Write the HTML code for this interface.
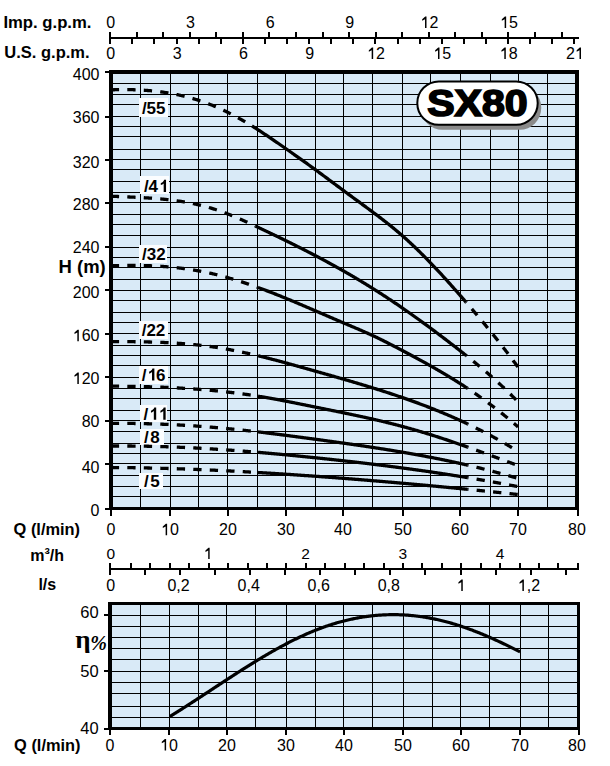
<!DOCTYPE html>
<html><head><meta charset="utf-8"><style>
html,body{margin:0;padding:0;background:#fff;width:610px;height:766px;overflow:hidden}
svg{display:block}
</style></head><body>
<svg width="610" height="766" viewBox="0 0 610 766">
<g shape-rendering="crispEdges">
<text x="3.40" y="28" font-family="Liberation Sans" font-size="16.7" font-weight="bold" text-anchor="start" >Imp. g.p.m.</text>
<text x="4.30" y="57.5" font-family="Liberation Sans" font-size="16.5" font-weight="bold" text-anchor="start" >U.S. g.p.m.</text>
<rect x="109" y="37" width="470" height="2" fill="#000"/>
<rect x="109" y="32" width="2" height="5" fill="#000"/>
<rect x="136" y="32" width="2" height="5" fill="#000"/>
<rect x="162" y="32" width="2" height="5" fill="#000"/>
<rect x="189" y="32" width="2" height="5" fill="#000"/>
<rect x="215" y="32" width="2" height="5" fill="#000"/>
<rect x="242" y="32" width="2" height="5" fill="#000"/>
<rect x="268" y="32" width="2" height="5" fill="#000"/>
<rect x="295" y="32" width="2" height="5" fill="#000"/>
<rect x="322" y="32" width="2" height="5" fill="#000"/>
<rect x="348" y="32" width="2" height="5" fill="#000"/>
<rect x="375" y="32" width="2" height="5" fill="#000"/>
<rect x="401" y="32" width="2" height="5" fill="#000"/>
<rect x="428" y="32" width="2" height="5" fill="#000"/>
<rect x="454" y="32" width="2" height="5" fill="#000"/>
<rect x="481" y="32" width="2" height="5" fill="#000"/>
<rect x="507" y="32" width="2" height="5" fill="#000"/>
<rect x="534" y="32" width="2" height="5" fill="#000"/>
<rect x="561" y="32" width="2" height="5" fill="#000"/>
<rect x="109" y="39" width="2" height="5" fill="#000"/>
<rect x="131" y="39" width="2" height="5" fill="#000"/>
<rect x="153" y="39" width="2" height="5" fill="#000"/>
<rect x="176" y="39" width="2" height="5" fill="#000"/>
<rect x="198" y="39" width="2" height="5" fill="#000"/>
<rect x="220" y="39" width="2" height="5" fill="#000"/>
<rect x="242" y="39" width="2" height="5" fill="#000"/>
<rect x="264" y="39" width="2" height="5" fill="#000"/>
<rect x="286" y="39" width="2" height="5" fill="#000"/>
<rect x="308" y="39" width="2" height="5" fill="#000"/>
<rect x="330" y="39" width="2" height="5" fill="#000"/>
<rect x="352" y="39" width="2" height="5" fill="#000"/>
<rect x="374" y="39" width="2" height="5" fill="#000"/>
<rect x="397" y="39" width="2" height="5" fill="#000"/>
<rect x="419" y="39" width="2" height="5" fill="#000"/>
<rect x="441" y="39" width="2" height="5" fill="#000"/>
<rect x="463" y="39" width="2" height="5" fill="#000"/>
<rect x="485" y="39" width="2" height="5" fill="#000"/>
<rect x="507" y="39" width="2" height="5" fill="#000"/>
<rect x="529" y="39" width="2" height="5" fill="#000"/>
<rect x="551" y="39" width="2" height="5" fill="#000"/>
<rect x="573" y="39" width="2" height="5" fill="#000"/>
<text x="110.80" y="28" font-family="Liberation Sans" font-size="16" font-weight="normal" text-anchor="middle" >0</text>
<text x="190.45" y="28" font-family="Liberation Sans" font-size="16" font-weight="normal" text-anchor="middle" >3</text>
<text x="270.09" y="28" font-family="Liberation Sans" font-size="16" font-weight="normal" text-anchor="middle" >6</text>
<text x="349.74" y="28" font-family="Liberation Sans" font-size="16" font-weight="normal" text-anchor="middle" >9</text>
<path d="M770 0H580V1120L215 925V1120L610 1472H770Z" transform="translate(420.49,28) scale(0.00781,-0.00781)" fill="#000" shape-rendering="geometricPrecision"/>
<text x="429.38" y="28" font-family="Liberation Sans" font-size="16" font-weight="normal" text-anchor="start" >2</text>
<path d="M770 0H580V1120L215 925V1120L610 1472H770Z" transform="translate(500.13,28) scale(0.00781,-0.00781)" fill="#000" shape-rendering="geometricPrecision"/>
<text x="509.03" y="28" font-family="Liberation Sans" font-size="16" font-weight="normal" text-anchor="start" >5</text>
<text x="110.80" y="59" font-family="Liberation Sans" font-size="16" font-weight="normal" text-anchor="middle" >0</text>
<text x="177.11" y="59" font-family="Liberation Sans" font-size="16" font-weight="normal" text-anchor="middle" >3</text>
<text x="243.43" y="59" font-family="Liberation Sans" font-size="16" font-weight="normal" text-anchor="middle" >6</text>
<text x="309.74" y="59" font-family="Liberation Sans" font-size="16" font-weight="normal" text-anchor="middle" >9</text>
<path d="M770 0H580V1120L215 925V1120L610 1472H770Z" transform="translate(367.15,59) scale(0.00781,-0.00781)" fill="#000" shape-rendering="geometricPrecision"/>
<text x="376.05" y="59" font-family="Liberation Sans" font-size="16" font-weight="normal" text-anchor="start" >2</text>
<path d="M770 0H580V1120L215 925V1120L610 1472H770Z" transform="translate(433.47,59) scale(0.00781,-0.00781)" fill="#000" shape-rendering="geometricPrecision"/>
<text x="442.37" y="59" font-family="Liberation Sans" font-size="16" font-weight="normal" text-anchor="start" >5</text>
<path d="M770 0H580V1120L215 925V1120L610 1472H770Z" transform="translate(499.78,59) scale(0.00781,-0.00781)" fill="#000" shape-rendering="geometricPrecision"/>
<text x="508.68" y="59" font-family="Liberation Sans" font-size="16" font-weight="normal" text-anchor="start" >8</text>
<text x="566.09" y="59" font-family="Liberation Sans" font-size="16" font-weight="normal" text-anchor="start" >2</text>
<path d="M770 0H580V1120L215 925V1120L610 1472H770Z" transform="translate(574.99,59) scale(0.00781,-0.00781)" fill="#000" shape-rendering="geometricPrecision"/>
<rect x="109" y="70" width="470" height="439.5" fill="#d9eaf7"/>
<rect x="140" y="74" width="1" height="432.5" fill="#000"/>
<rect x="170" y="74" width="1" height="432.5" fill="#000"/>
<rect x="198" y="74" width="1" height="432.5" fill="#000"/>
<rect x="227" y="74" width="1" height="432.5" fill="#000"/>
<rect x="257" y="74" width="1" height="432.5" fill="#000"/>
<rect x="285" y="74" width="1" height="432.5" fill="#000"/>
<rect x="315" y="74" width="1" height="432.5" fill="#000"/>
<rect x="343" y="74" width="1" height="432.5" fill="#000"/>
<rect x="372" y="74" width="1" height="432.5" fill="#000"/>
<rect x="402" y="74" width="1" height="432.5" fill="#000"/>
<rect x="430" y="74" width="1" height="432.5" fill="#000"/>
<rect x="460" y="74" width="1" height="432.5" fill="#000"/>
<rect x="490" y="74" width="1" height="432.5" fill="#000"/>
<rect x="518" y="74" width="1" height="432.5" fill="#000"/>
<rect x="547" y="74" width="1" height="432.5" fill="#000"/>
<rect x="112.5" y="83" width="462.5" height="1" fill="#000"/>
<rect x="112.5" y="94" width="462.5" height="1" fill="#000"/>
<rect x="112.5" y="104" width="462.5" height="1" fill="#000"/>
<rect x="112.5" y="116" width="462.5" height="1" fill="#000"/>
<rect x="112.5" y="126" width="462.5" height="1" fill="#000"/>
<rect x="112.5" y="136" width="462.5" height="1" fill="#000"/>
<rect x="112.5" y="149" width="462.5" height="1" fill="#000"/>
<rect x="112.5" y="159" width="462.5" height="1" fill="#000"/>
<rect x="112.5" y="169" width="462.5" height="1" fill="#000"/>
<rect x="112.5" y="181" width="462.5" height="1" fill="#000"/>
<rect x="112.5" y="192" width="462.5" height="1" fill="#000"/>
<rect x="112.5" y="202" width="462.5" height="1" fill="#000"/>
<rect x="112.5" y="214" width="462.5" height="1" fill="#000"/>
<rect x="112.5" y="224" width="462.5" height="1" fill="#000"/>
<rect x="112.5" y="235" width="462.5" height="1" fill="#000"/>
<rect x="112.5" y="247" width="462.5" height="1" fill="#000"/>
<rect x="112.5" y="257" width="462.5" height="1" fill="#000"/>
<rect x="112.5" y="267" width="462.5" height="1" fill="#000"/>
<rect x="112.5" y="279" width="462.5" height="1" fill="#000"/>
<rect x="112.5" y="290" width="462.5" height="1" fill="#000"/>
<rect x="112.5" y="300" width="462.5" height="1" fill="#000"/>
<rect x="112.5" y="312" width="462.5" height="1" fill="#000"/>
<rect x="112.5" y="322" width="462.5" height="1" fill="#000"/>
<rect x="112.5" y="333" width="462.5" height="1" fill="#000"/>
<rect x="112.5" y="345" width="462.5" height="1" fill="#000"/>
<rect x="112.5" y="355" width="462.5" height="1" fill="#000"/>
<rect x="112.5" y="365" width="462.5" height="1" fill="#000"/>
<rect x="112.5" y="377" width="462.5" height="1" fill="#000"/>
<rect x="112.5" y="388" width="462.5" height="1" fill="#000"/>
<rect x="112.5" y="398" width="462.5" height="1" fill="#000"/>
<rect x="112.5" y="410" width="462.5" height="1" fill="#000"/>
<rect x="112.5" y="420" width="462.5" height="1" fill="#000"/>
<rect x="112.5" y="431" width="462.5" height="1" fill="#000"/>
<rect x="112.5" y="443" width="462.5" height="1" fill="#000"/>
<rect x="112.5" y="453" width="462.5" height="1" fill="#000"/>
<rect x="112.5" y="463" width="462.5" height="1" fill="#000"/>
<rect x="112.5" y="475" width="462.5" height="1" fill="#000"/>
<rect x="112.5" y="486" width="462.5" height="1" fill="#000"/>
<rect x="112.5" y="496" width="462.5" height="1" fill="#000"/>
<rect x="139.2" y="97.8" width="28.9" height="19.2" fill="#fbfdff"/>
<rect x="139.8" y="176.1" width="29.1" height="17.7" fill="#fbfdff"/>
<rect x="139.4" y="245" width="27.9" height="18.0" fill="#fbfdff"/>
<rect x="139.3" y="321.4" width="28.9" height="17.6" fill="#fbfdff"/>
<rect x="139.3" y="366.4" width="28.9" height="17.1" fill="#fbfdff"/>
<rect x="139.8" y="404.9" width="27.5" height="16.8" fill="#fbfdff"/>
<rect x="139.8" y="429.1" width="24.2" height="15.6" fill="#fbfdff"/>
<rect x="139.4" y="472.6" width="23.4" height="16.0" fill="#fbfdff"/>
</g><g shape-rendering="geometricPrecision">
<path d="M110.80,89.84 L111.51,89.82 L112.22,89.80 L112.93,89.78 L113.64,89.75 L114.35,89.74 L115.06,89.72 L115.77,89.70 L116.48,89.68 L117.19,89.67 L117.90,89.66 L118.61,89.65 L119.31,89.64 L120.02,89.63 L120.73,89.62 L121.44,89.61 L122.15,89.61 L122.86,89.61 L123.57,89.60 L124.28,89.60 L124.99,89.60 L125.70,89.61 L126.41,89.61 L127.12,89.62 L127.83,89.62 L128.54,89.63 L129.25,89.64 L129.96,89.65 L130.67,89.67 L131.38,89.68 L132.09,89.70 L132.80,89.72 L133.51,89.74 L134.22,89.76 L134.92,89.78 L135.63,89.80 L136.34,89.83 L137.05,89.86 L137.76,89.89 L138.47,89.92 L139.18,89.95 L139.89,89.99 L140.60,90.02 L141.31,90.06 L142.02,90.10 L142.73,90.14 L143.44,90.19 L144.15,90.23 L144.86,90.28 L145.57,90.33 L146.28,90.38 L146.99,90.44 L147.70,90.49 L148.41,90.55 L149.12,90.61 L149.83,90.67 L150.53,90.73 L151.24,90.79 L151.95,90.86 L152.66,90.93 L153.37,91.00 L154.08,91.07 L154.79,91.15 L155.50,91.23 L156.21,91.30 L156.92,91.39 L157.63,91.47 L158.34,91.55 L159.05,91.64 L159.76,91.73 L160.47,91.82 L161.18,91.92 L161.89,92.01 L162.60,92.11 L163.31,92.21 L164.02,92.31 L164.73,92.42 L165.44,92.53 L166.14,92.64 L166.85,92.75 L167.56,92.86 L168.27,92.98 L168.98,93.10 L169.69,93.22 L170.40,93.34 L171.11,93.47 L171.82,93.60 L172.53,93.73 L173.24,93.86 L173.95,94.00 L174.66,94.13 L175.37,94.27 L176.08,94.42 L176.79,94.56 L177.50,94.71 L178.21,94.86 L178.92,95.01 L179.63,95.17 L180.34,95.33 L181.05,95.49 L181.75,95.65 L182.46,95.82 L183.17,95.99 L183.88,96.16 L184.59,96.33 L185.30,96.51 L186.01,96.69 L186.72,96.87 L187.43,97.05 L188.14,97.24 L188.85,97.43 L189.56,97.62 L190.27,97.82 L190.98,98.01 L191.69,98.21 L192.40,98.42 L193.11,98.62 L193.82,98.83 L194.53,99.05 L195.24,99.26 L195.95,99.48 L196.66,99.70 L197.36,99.92 L198.07,100.15 L198.78,100.38 L199.49,100.61 L200.20,100.85 L200.91,101.08 L201.62,101.33 L202.33,101.57 L203.04,101.82 L203.75,102.07 L204.46,102.32 L205.17,102.58 L205.88,102.84 L206.59,103.10 L207.30,103.36 L208.01,103.63 L208.72,103.90 L209.43,104.18 L210.14,104.46 L210.85,104.74 L211.56,105.02 L212.27,105.31 L212.97,105.60 L213.68,105.90 L214.39,106.19 L215.10,106.49 L215.81,106.80 L216.52,107.10 L217.23,107.41 L217.94,107.73 L218.65,108.04 L219.36,108.36 L220.07,108.68 L220.78,109.01 L221.49,109.33 L222.20,109.67 L222.91,110.00 L223.62,110.34 L224.33,110.68 L225.04,111.02 L225.75,111.36 L226.46,111.71 L227.17,112.06 L227.88,112.42 L228.58,112.77 L229.29,113.13 L230.00,113.49 L230.71,113.86 L231.42,114.23 L232.13,114.60 L232.84,114.97 L233.55,115.34 L234.26,115.72 L234.97,116.10 L235.68,116.49 L236.39,116.87 L237.10,117.26 L237.81,117.65 L238.52,118.04 L239.23,118.44 L239.94,118.84 L240.65,119.24 L241.36,119.64 L242.07,120.05 L242.78,120.46 L243.49,120.87 L244.19,121.28 L244.90,121.70 L245.61,122.11 L246.32,122.53 L247.03,122.96 L247.74,123.38 L248.45,123.81 L249.16,124.24 L249.87,124.67 L250.58,125.10 L251.29,125.54 L252.00,125.97" fill="none" stroke="#000" stroke-width="3.3" stroke-dasharray="8.3 8.2"/>
<path d="M252.00,125.97 L252.72,126.42 L253.43,126.86 L254.15,127.31 L254.86,127.76 L255.58,128.21 L256.29,128.67 L257.01,129.12 L257.73,129.58 L258.44,130.04 L259.16,130.50 L259.87,130.97 L260.59,131.43 L261.30,131.90 L262.02,132.37 L262.74,132.84 L263.45,133.31 L264.17,133.78 L264.88,134.26 L265.60,134.73 L266.31,135.21 L267.03,135.69 L267.75,136.17 L268.46,136.65 L269.18,137.13 L269.89,137.62 L270.61,138.10 L271.32,138.59 L272.04,139.08 L272.76,139.57 L273.47,140.06 L274.19,140.55 L274.90,141.04 L275.62,141.53 L276.33,142.02 L277.05,142.52 L277.77,143.01 L278.48,143.51 L279.20,144.00 L279.91,144.50 L280.63,145.00 L281.34,145.50 L282.06,145.99 L282.78,146.49 L283.49,146.99 L284.21,147.49 L284.92,147.99 L285.64,148.50 L286.35,149.00 L287.07,149.50 L287.79,150.00 L288.50,150.50 L289.22,151.00 L289.93,151.51 L290.65,152.01 L291.36,152.51 L292.08,153.02 L292.80,153.52 L293.51,154.03 L294.23,154.53 L294.94,155.04 L295.66,155.54 L296.37,156.05 L297.09,156.56 L297.81,157.06 L298.52,157.57 L299.24,158.08 L299.95,158.59 L300.67,159.10 L301.38,159.61 L302.10,160.12 L302.82,160.63 L303.53,161.14 L304.25,161.66 L304.96,162.17 L305.68,162.68 L306.39,163.20 L307.11,163.71 L307.83,164.23 L308.54,164.74 L309.26,165.26 L309.97,165.78 L310.69,166.30 L311.40,166.82 L312.12,167.33 L312.84,167.86 L313.55,168.38 L314.27,168.90 L314.98,169.42 L315.70,169.94 L316.41,170.47 L317.13,170.99 L317.85,171.52 L318.56,172.04 L319.28,172.57 L319.99,173.10 L320.71,173.63 L321.42,174.15 L322.14,174.68 L322.86,175.21 L323.57,175.74 L324.29,176.27 L325.00,176.80 L325.72,177.34 L326.43,177.87 L327.15,178.40 L327.87,178.93 L328.58,179.46 L329.30,179.99 L330.01,180.53 L330.73,181.06 L331.44,181.59 L332.16,182.13 L332.88,182.66 L333.59,183.19 L334.31,183.72 L335.02,184.26 L335.74,184.79 L336.45,185.32 L337.17,185.86 L337.89,186.39 L338.60,186.92 L339.32,187.45 L340.03,187.98 L340.75,188.51 L341.46,189.05 L342.18,189.58 L342.90,190.11 L343.61,190.64 L344.33,191.17 L345.04,191.70 L345.76,192.22 L346.47,192.75 L347.19,193.28 L347.91,193.81 L348.62,194.33 L349.34,194.86 L350.05,195.39 L350.77,195.91 L351.48,196.44 L352.20,196.97 L352.92,197.49 L353.63,198.02 L354.35,198.54 L355.06,199.07 L355.78,199.59 L356.49,200.11 L357.21,200.64 L357.93,201.16 L358.64,201.69 L359.36,202.21 L360.07,202.74 L360.79,203.26 L361.51,203.78 L362.22,204.31 L362.94,204.83 L363.65,205.36 L364.37,205.88 L365.08,206.41 L365.80,206.93 L366.52,207.46 L367.23,207.99 L367.95,208.51 L368.66,209.04 L369.38,209.57 L370.09,210.10 L370.81,210.63 L371.53,211.16 L372.24,211.69 L372.96,212.23 L373.67,212.76 L374.39,213.30 L375.10,213.83 L375.82,214.37 L376.54,214.91 L377.25,215.45 L377.97,215.99 L378.68,216.53 L379.40,217.08 L380.11,217.62 L380.83,218.17 L381.55,218.72 L382.26,219.27 L382.98,219.83 L383.69,220.38 L384.41,220.94 L385.12,221.50 L385.84,222.06 L386.56,222.62 L387.27,223.19 L387.99,223.76 L388.70,224.33 L389.42,224.90 L390.13,225.47 L390.85,226.05 L391.57,226.63 L392.28,227.21 L393.00,227.80 L393.71,228.39 L394.43,228.98 L395.14,229.57 L395.86,230.17 L396.58,230.77 L397.29,231.37 L398.01,231.97 L398.72,232.58 L399.44,233.19 L400.15,233.81 L400.87,234.43 L401.59,235.05 L402.30,235.68 L403.02,236.30 L403.73,236.94 L404.45,237.57 L405.16,238.21 L405.88,238.85 L406.60,239.50 L407.31,240.15 L408.03,240.80 L408.74,241.46 L409.46,242.12 L410.17,242.78 L410.89,243.45 L411.61,244.11 L412.32,244.79 L413.04,245.46 L413.75,246.14 L414.47,246.82 L415.18,247.51 L415.90,248.19 L416.62,248.88 L417.33,249.58 L418.05,250.27 L418.76,250.97 L419.48,251.68 L420.19,252.38 L420.91,253.09 L421.63,253.80 L422.34,254.51 L423.06,255.23 L423.77,255.95 L424.49,256.67 L425.20,257.39 L425.92,258.12 L426.64,258.85 L427.35,259.58 L428.07,260.32 L428.78,261.05 L429.50,261.79 L430.21,262.54 L430.93,263.28 L431.65,264.03 L432.36,264.78 L433.08,265.53 L433.79,266.28 L434.51,267.04 L435.22,267.80 L435.94,268.56 L436.66,269.32 L437.37,270.09 L438.09,270.85 L438.80,271.62 L439.52,272.39 L440.23,273.17 L440.95,273.94 L441.67,274.72 L442.38,275.50 L443.10,276.28 L443.81,277.06 L444.53,277.85 L445.24,278.64 L445.96,279.43 L446.68,280.22 L447.39,281.01 L448.11,281.80 L448.82,282.60 L449.54,283.40 L450.25,284.20 L450.97,285.00 L451.69,285.80 L452.40,286.61 L453.12,287.41 L453.83,288.22 L454.55,289.03 L455.26,289.84 L455.98,290.65 L456.70,291.46 L457.41,292.28 L458.13,293.09 L458.84,293.91 L459.56,294.73 L460.27,295.55 L460.99,296.37 L461.71,297.19 L462.42,298.02 L463.14,298.84 L463.85,299.67 L464.57,300.49 L465.28,301.32 L466.00,302.15" fill="none" stroke="#000" stroke-width="3.3"/>
<path d="M466.00,302.15 L466.53,302.76 L467.05,303.37 L467.58,303.98 L468.10,304.59 L468.63,305.20 L469.15,305.81 L469.68,306.43 L470.20,307.04 L470.73,307.66 L471.25,308.27 L471.78,308.89 L472.30,309.50 L472.83,310.12 L473.35,310.74 L473.88,311.36 L474.40,311.97 L474.93,312.59 L475.45,313.22 L475.98,313.84 L476.51,314.46 L477.03,315.08 L477.56,315.71 L478.08,316.33 L478.61,316.96 L479.13,317.58 L479.66,318.21 L480.18,318.84 L480.71,319.47 L481.23,320.10 L481.76,320.73 L482.28,321.36 L482.81,322.00 L483.33,322.63 L483.86,323.26 L484.38,323.90 L484.91,324.54 L485.43,325.17 L485.96,325.81 L486.48,326.45 L487.01,327.09 L487.54,327.73 L488.06,328.38 L488.59,329.02 L489.11,329.67 L489.64,330.31 L490.16,330.96 L490.69,331.61 L491.21,332.26 L491.74,332.91 L492.26,333.56 L492.79,334.21 L493.31,334.87 L493.84,335.52 L494.36,336.18 L494.89,336.83 L495.41,337.49 L495.94,338.15 L496.46,338.81 L496.99,339.48 L497.52,340.14 L498.04,340.80 L498.57,341.47 L499.09,342.14 L499.62,342.81 L500.14,343.48 L500.67,344.15 L501.19,344.82 L501.72,345.49 L502.24,346.17 L502.77,346.85 L503.29,347.52 L503.82,348.20 L504.34,348.88 L504.87,349.57 L505.39,350.25 L505.92,350.93 L506.44,351.62 L506.97,352.31 L507.49,353.00 L508.02,353.69 L508.55,354.38 L509.07,355.07 L509.60,355.77 L510.12,356.47 L510.65,357.16 L511.17,357.86 L511.70,358.57 L512.22,359.27 L512.75,359.97 L513.27,360.68 L513.80,361.39 L514.32,362.10 L514.85,362.81 L515.37,363.52 L515.90,364.23 L516.42,364.95 L516.95,365.67 L517.47,366.39 L518.00,367.11" fill="none" stroke="#000" stroke-width="3.3" stroke-dasharray="8.3 8.2" stroke-dashoffset="7.6000000000000005"/>
<path d="M110.80,196.20 L111.53,196.24 L112.25,196.27 L112.98,196.30 L113.71,196.33 L114.44,196.36 L115.16,196.40 L115.89,196.43 L116.62,196.46 L117.34,196.49 L118.07,196.52 L118.80,196.55 L119.53,196.58 L120.25,196.61 L120.98,196.64 L121.71,196.67 L122.43,196.70 L123.16,196.73 L123.89,196.76 L124.62,196.79 L125.34,196.82 L126.07,196.85 L126.80,196.88 L127.52,196.92 L128.25,196.95 L128.98,196.98 L129.71,197.01 L130.43,197.04 L131.16,197.07 L131.89,197.11 L132.61,197.14 L133.34,197.17 L134.07,197.21 L134.80,197.24 L135.52,197.28 L136.25,197.31 L136.98,197.35 L137.70,197.38 L138.43,197.42 L139.16,197.46 L139.89,197.49 L140.61,197.53 L141.34,197.57 L142.07,197.61 L142.79,197.65 L143.52,197.69 L144.25,197.74 L144.98,197.78 L145.70,197.82 L146.43,197.87 L147.16,197.91 L147.88,197.96 L148.61,198.00 L149.34,198.05 L150.07,198.10 L150.79,198.15 L151.52,198.20 L152.25,198.25 L152.97,198.31 L153.70,198.36 L154.43,198.42 L155.16,198.47 L155.88,198.53 L156.61,198.59 L157.34,198.65 L158.06,198.71 L158.79,198.77 L159.52,198.84 L160.25,198.90 L160.97,198.97 L161.70,199.03 L162.43,199.10 L163.15,199.17 L163.88,199.25 L164.61,199.32 L165.34,199.39 L166.06,199.47 L166.79,199.55 L167.52,199.63 L168.24,199.71 L168.97,199.79 L169.70,199.87 L170.43,199.96 L171.15,200.05 L171.88,200.14 L172.61,200.23 L173.33,200.32 L174.06,200.41 L174.79,200.51 L175.52,200.61 L176.24,200.71 L176.97,200.81 L177.70,200.91 L178.42,201.02 L179.15,201.12 L179.88,201.23 L180.61,201.35 L181.33,201.46 L182.06,201.57 L182.79,201.69 L183.51,201.81 L184.24,201.93 L184.97,202.06 L185.69,202.18 L186.42,202.31 L187.15,202.44 L187.88,202.57 L188.60,202.71 L189.33,202.85 L190.06,202.99 L190.78,203.13 L191.51,203.27 L192.24,203.42 L192.97,203.57 L193.69,203.72 L194.42,203.87 L195.15,204.03 L195.87,204.19 L196.60,204.35 L197.33,204.52 L198.06,204.68 L198.78,204.85 L199.51,205.02 L200.24,205.20 L200.96,205.38 L201.69,205.56 L202.42,205.74 L203.15,205.93 L203.87,206.11 L204.60,206.31 L205.33,206.50 L206.05,206.70 L206.78,206.90 L207.51,207.10 L208.24,207.30 L208.96,207.51 L209.69,207.73 L210.42,207.94 L211.14,208.16 L211.87,208.38 L212.60,208.60 L213.33,208.83 L214.05,209.06 L214.78,209.29 L215.51,209.53 L216.23,209.77 L216.96,210.01 L217.69,210.26 L218.42,210.50 L219.14,210.75 L219.87,211.01 L220.60,211.26 L221.32,211.52 L222.05,211.78 L222.78,212.05 L223.51,212.32 L224.23,212.59 L224.96,212.86 L225.69,213.13 L226.41,213.41 L227.14,213.69 L227.87,213.97 L228.60,214.26 L229.32,214.54 L230.05,214.83 L230.78,215.13 L231.50,215.42 L232.23,215.72 L232.96,216.01 L233.69,216.31 L234.41,216.62 L235.14,216.92 L235.87,217.23 L236.59,217.54 L237.32,217.85 L238.05,218.16 L238.78,218.47 L239.50,218.79 L240.23,219.11 L240.96,219.43 L241.68,219.75 L242.41,220.07 L243.14,220.40 L243.87,220.73 L244.59,221.06 L245.32,221.39 L246.05,221.72 L246.77,222.05 L247.50,222.39 L248.23,222.72 L248.96,223.06 L249.68,223.40 L250.41,223.73 L251.14,224.07 L251.86,224.41 L252.59,224.75 L253.32,225.09 L254.05,225.44 L254.77,225.78 L255.50,226.12" fill="none" stroke="#000" stroke-width="3.3" stroke-dasharray="8.3 8.2"/>
<path d="M255.50,226.12 L256.21,226.45 L256.91,226.78 L257.62,227.12 L258.32,227.45 L259.03,227.78 L259.73,228.12 L260.44,228.45 L261.14,228.78 L261.85,229.12 L262.55,229.45 L263.26,229.79 L263.96,230.12 L264.67,230.45 L265.37,230.79 L266.08,231.13 L266.78,231.46 L267.49,231.80 L268.19,232.13 L268.90,232.47 L269.60,232.81 L270.31,233.14 L271.01,233.48 L271.72,233.82 L272.42,234.16 L273.13,234.50 L273.83,234.84 L274.54,235.17 L275.24,235.51 L275.95,235.85 L276.65,236.19 L277.36,236.54 L278.06,236.88 L278.77,237.22 L279.47,237.56 L280.18,237.90 L280.88,238.25 L281.59,238.59 L282.29,238.93 L283.00,239.28 L283.70,239.62 L284.41,239.97 L285.11,240.31 L285.82,240.66 L286.52,241.00 L287.23,241.35 L287.93,241.70 L288.64,242.04 L289.34,242.39 L290.05,242.74 L290.75,243.09 L291.46,243.44 L292.16,243.79 L292.87,244.14 L293.57,244.49 L294.28,244.84 L294.98,245.19 L295.69,245.55 L296.39,245.90 L297.10,246.25 L297.80,246.61 L298.51,246.96 L299.21,247.32 L299.92,247.67 L300.62,248.03 L301.33,248.39 L302.03,248.74 L302.74,249.10 L303.44,249.46 L304.15,249.82 L304.85,250.18 L305.56,250.54 L306.26,250.90 L306.97,251.26 L307.67,251.62 L308.38,251.99 L309.08,252.35 L309.79,252.72 L310.49,253.08 L311.20,253.45 L311.90,253.81 L312.61,254.18 L313.31,254.55 L314.02,254.91 L314.72,255.28 L315.43,255.65 L316.13,256.02 L316.84,256.39 L317.54,256.77 L318.25,257.14 L318.95,257.51 L319.66,257.88 L320.36,258.26 L321.07,258.63 L321.77,259.01 L322.48,259.39 L323.18,259.76 L323.89,260.14 L324.59,260.52 L325.30,260.90 L326.00,261.28 L326.71,261.66 L327.41,262.04 L328.12,262.43 L328.82,262.81 L329.53,263.19 L330.23,263.58 L330.94,263.97 L331.64,264.35 L332.35,264.74 L333.05,265.13 L333.76,265.52 L334.46,265.91 L335.17,266.30 L335.87,266.69 L336.58,267.08 L337.28,267.47 L337.99,267.87 L338.69,268.26 L339.40,268.66 L340.10,269.06 L340.81,269.45 L341.51,269.85 L342.22,270.25 L342.92,270.65 L343.63,271.05 L344.33,271.45 L345.04,271.86 L345.74,272.26 L346.45,272.67 L347.15,273.07 L347.86,273.48 L348.56,273.89 L349.27,274.29 L349.97,274.70 L350.68,275.11 L351.38,275.52 L352.09,275.94 L352.79,276.35 L353.50,276.76 L354.20,277.18 L354.91,277.59 L355.61,278.01 L356.32,278.43 L357.02,278.85 L357.73,279.27 L358.43,279.69 L359.14,280.11 L359.84,280.53 L360.55,280.96 L361.25,281.38 L361.96,281.81 L362.66,282.24 L363.37,282.66 L364.07,283.09 L364.78,283.52 L365.48,283.95 L366.19,284.39 L366.89,284.82 L367.60,285.25 L368.30,285.69 L369.01,286.12 L369.71,286.56 L370.42,287.00 L371.12,287.44 L371.83,287.88 L372.53,288.32 L373.24,288.77 L373.94,289.21 L374.65,289.65 L375.35,290.10 L376.06,290.55 L376.76,291.00 L377.47,291.45 L378.17,291.90 L378.88,292.35 L379.58,292.80 L380.29,293.25 L380.99,293.71 L381.70,294.17 L382.40,294.62 L383.11,295.08 L383.81,295.54 L384.52,296.00 L385.22,296.46 L385.93,296.92 L386.63,297.39 L387.34,297.85 L388.04,298.32 L388.75,298.78 L389.45,299.25 L390.16,299.72 L390.86,300.19 L391.57,300.66 L392.27,301.13 L392.98,301.60 L393.68,302.08 L394.39,302.55 L395.09,303.03 L395.80,303.50 L396.50,303.98 L397.21,304.46 L397.91,304.94 L398.62,305.42 L399.32,305.90 L400.03,306.38 L400.73,306.86 L401.44,307.35 L402.14,307.83 L402.85,308.32 L403.55,308.81 L404.26,309.30 L404.96,309.78 L405.67,310.27 L406.37,310.77 L407.08,311.26 L407.78,311.75 L408.49,312.24 L409.19,312.74 L409.90,313.24 L410.60,313.73 L411.31,314.23 L412.01,314.73 L412.72,315.23 L413.42,315.73 L414.13,316.23 L414.83,316.73 L415.54,317.23 L416.24,317.74 L416.95,318.24 L417.65,318.75 L418.36,319.26 L419.06,319.76 L419.77,320.27 L420.47,320.78 L421.18,321.29 L421.88,321.80 L422.59,322.31 L423.29,322.83 L424.00,323.34 L424.70,323.86 L425.41,324.37 L426.11,324.89 L426.82,325.40 L427.52,325.92 L428.23,326.44 L428.93,326.96 L429.64,327.48 L430.34,328.00 L431.05,328.52 L431.75,329.05 L432.46,329.57 L433.16,330.10 L433.87,330.62 L434.57,331.15 L435.28,331.68 L435.98,332.20 L436.69,332.73 L437.39,333.26 L438.10,333.79 L438.80,334.32 L439.51,334.85 L440.21,335.39 L440.92,335.92 L441.62,336.46 L442.33,336.99 L443.03,337.53 L443.74,338.06 L444.44,338.60 L445.15,339.14 L445.85,339.68 L446.56,340.22 L447.26,340.76 L447.97,341.30 L448.67,341.84 L449.38,342.38 L450.08,342.93 L450.79,343.47 L451.49,344.02 L452.20,344.56 L452.90,345.11 L453.61,345.66 L454.31,346.20 L455.02,346.75 L455.72,347.30 L456.43,347.85 L457.13,348.40 L457.84,348.95 L458.54,349.51 L459.25,350.06 L459.95,350.61 L460.66,351.17 L461.36,351.72 L462.07,352.28 L462.77,352.83 L463.48,353.39 L464.18,353.95 L464.89,354.51 L465.59,355.07 L466.30,355.63" fill="none" stroke="#000" stroke-width="3.3"/>
<path d="M466.30,355.63 L466.82,356.04 L467.33,356.45 L467.85,356.87 L468.37,357.28 L468.89,357.70 L469.40,358.11 L469.92,358.53 L470.44,358.94 L470.95,359.36 L471.47,359.78 L471.99,360.19 L472.51,360.61 L473.02,361.03 L473.54,361.45 L474.06,361.87 L474.57,362.30 L475.09,362.72 L475.61,363.14 L476.13,363.57 L476.64,363.99 L477.16,364.42 L477.68,364.84 L478.19,365.27 L478.71,365.70 L479.23,366.13 L479.75,366.56 L480.26,366.99 L480.78,367.42 L481.30,367.85 L481.82,368.29 L482.33,368.72 L482.85,369.16 L483.37,369.59 L483.88,370.03 L484.40,370.47 L484.92,370.91 L485.44,371.35 L485.95,371.79 L486.47,372.24 L486.99,372.68 L487.50,373.12 L488.02,373.57 L488.54,374.02 L489.06,374.47 L489.57,374.92 L490.09,375.37 L490.61,375.82 L491.12,376.27 L491.64,376.73 L492.16,377.18 L492.68,377.64 L493.19,378.10 L493.71,378.56 L494.23,379.02 L494.74,379.48 L495.26,379.94 L495.78,380.41 L496.30,380.87 L496.81,381.34 L497.33,381.81 L497.85,382.28 L498.36,382.75 L498.88,383.23 L499.40,383.70 L499.92,384.18 L500.43,384.65 L500.95,385.13 L501.47,385.61 L501.98,386.09 L502.50,386.58 L503.02,387.06 L503.54,387.55 L504.05,388.04 L504.57,388.53 L505.09,389.02 L505.61,389.51 L506.12,390.01 L506.64,390.50 L507.16,391.00 L507.67,391.50 L508.19,392.00 L508.71,392.50 L509.23,393.01 L509.74,393.51 L510.26,394.02 L510.78,394.53 L511.29,395.04 L511.81,395.56 L512.33,396.07 L512.85,396.59 L513.36,397.11 L513.88,397.63 L514.40,398.15 L514.91,398.67 L515.43,399.20 L515.95,399.73 L516.47,400.26 L516.98,400.79 L517.50,401.32" fill="none" stroke="#000" stroke-width="3.3" stroke-dasharray="8.3 8.2" stroke-dashoffset="7.6000000000000005"/>
<path d="M110.80,265.81 L111.54,265.78 L112.28,265.75 L113.02,265.72 L113.76,265.70 L114.50,265.67 L115.24,265.65 L115.98,265.63 L116.72,265.60 L117.46,265.58 L118.20,265.56 L118.94,265.54 L119.68,265.53 L120.42,265.51 L121.16,265.49 L121.90,265.48 L122.64,265.46 L123.37,265.45 L124.11,265.44 L124.85,265.43 L125.59,265.42 L126.33,265.41 L127.07,265.40 L127.81,265.39 L128.55,265.39 L129.29,265.38 L130.03,265.38 L130.77,265.38 L131.51,265.38 L132.25,265.37 L132.99,265.38 L133.73,265.38 L134.47,265.38 L135.21,265.39 L135.95,265.39 L136.69,265.40 L137.43,265.41 L138.17,265.41 L138.91,265.42 L139.65,265.44 L140.39,265.45 L141.13,265.46 L141.87,265.48 L142.61,265.49 L143.35,265.51 L144.09,265.53 L144.83,265.55 L145.57,265.57 L146.31,265.59 L147.05,265.62 L147.78,265.64 L148.52,265.67 L149.26,265.70 L150.00,265.73 L150.74,265.76 L151.48,265.79 L152.22,265.82 L152.96,265.85 L153.70,265.89 L154.44,265.93 L155.18,265.97 L155.92,266.00 L156.66,266.05 L157.40,266.09 L158.14,266.13 L158.88,266.18 L159.62,266.22 L160.36,266.27 L161.10,266.32 L161.84,266.37 L162.58,266.43 L163.32,266.48 L164.06,266.53 L164.80,266.59 L165.54,266.65 L166.28,266.71 L167.02,266.77 L167.76,266.83 L168.50,266.90 L169.24,266.96 L169.98,267.03 L170.72,267.10 L171.46,267.17 L172.19,267.24 L172.93,267.32 L173.67,267.39 L174.41,267.47 L175.15,267.55 L175.89,267.63 L176.63,267.71 L177.37,267.79 L178.11,267.87 L178.85,267.96 L179.59,268.05 L180.33,268.14 L181.07,268.23 L181.81,268.32 L182.55,268.42 L183.29,268.51 L184.03,268.61 L184.77,268.71 L185.51,268.81 L186.25,268.91 L186.99,269.02 L187.73,269.12 L188.47,269.23 L189.21,269.34 L189.95,269.45 L190.69,269.57 L191.43,269.68 L192.17,269.80 L192.91,269.92 L193.65,270.04 L194.39,270.16 L195.13,270.28 L195.87,270.41 L196.61,270.54 L197.34,270.67 L198.08,270.80 L198.82,270.93 L199.56,271.07 L200.30,271.20 L201.04,271.34 L201.78,271.48 L202.52,271.62 L203.26,271.77 L204.00,271.91 L204.74,272.06 L205.48,272.21 L206.22,272.36 L206.96,272.52 L207.70,272.67 L208.44,272.83 L209.18,272.99 L209.92,273.15 L210.66,273.31 L211.40,273.48 L212.14,273.65 L212.88,273.82 L213.62,273.99 L214.36,274.16 L215.10,274.34 L215.84,274.51 L216.58,274.69 L217.32,274.87 L218.06,275.06 L218.80,275.24 L219.54,275.43 L220.28,275.62 L221.02,275.81 L221.75,276.00 L222.49,276.20 L223.23,276.39 L223.97,276.59 L224.71,276.79 L225.45,276.99 L226.19,277.20 L226.93,277.40 L227.67,277.61 L228.41,277.82 L229.15,278.03 L229.89,278.24 L230.63,278.46 L231.37,278.67 L232.11,278.89 L232.85,279.11 L233.59,279.33 L234.33,279.55 L235.07,279.78 L235.81,280.00 L236.55,280.23 L237.29,280.46 L238.03,280.69 L238.77,280.92 L239.51,281.16 L240.25,281.39 L240.99,281.63 L241.73,281.87 L242.47,282.11 L243.21,282.35 L243.95,282.59 L244.69,282.83 L245.43,283.08 L246.16,283.33 L246.90,283.58 L247.64,283.83 L248.38,284.08 L249.12,284.33 L249.86,284.58 L250.60,284.84 L251.34,285.10 L252.08,285.35 L252.82,285.61 L253.56,285.87 L254.30,286.13 L255.04,286.40 L255.78,286.66 L256.52,286.93 L257.26,287.19 L258.00,287.46" fill="none" stroke="#000" stroke-width="3.3" stroke-dasharray="8.3 8.2"/>
<path d="M258.00,287.46 L258.70,287.72 L259.40,287.97 L260.10,288.23 L260.80,288.49 L261.50,288.75 L262.20,289.01 L262.90,289.27 L263.60,289.53 L264.30,289.79 L265.00,290.06 L265.70,290.32 L266.40,290.59 L267.10,290.85 L267.80,291.12 L268.50,291.39 L269.20,291.66 L269.90,291.93 L270.60,292.20 L271.30,292.47 L272.00,292.74 L272.70,293.02 L273.40,293.29 L274.10,293.57 L274.80,293.84 L275.50,294.12 L276.20,294.40 L276.90,294.68 L277.60,294.96 L278.30,295.24 L279.00,295.52 L279.70,295.80 L280.40,296.08 L281.10,296.36 L281.80,296.65 L282.50,296.93 L283.20,297.21 L283.90,297.50 L284.60,297.79 L285.30,298.07 L286.00,298.36 L286.70,298.65 L287.40,298.94 L288.10,299.22 L288.80,299.51 L289.50,299.80 L290.20,300.09 L290.90,300.39 L291.60,300.68 L292.30,300.97 L293.00,301.26 L293.70,301.55 L294.40,301.85 L295.10,302.14 L295.80,302.44 L296.50,302.73 L297.20,303.03 L297.90,303.32 L298.60,303.62 L299.30,303.92 L300.00,304.21 L300.70,304.51 L301.40,304.81 L302.10,305.10 L302.80,305.40 L303.50,305.70 L304.20,306.00 L304.90,306.30 L305.60,306.60 L306.30,306.90 L307.00,307.20 L307.70,307.50 L308.40,307.80 L309.10,308.10 L309.80,308.40 L310.50,308.70 L311.20,309.00 L311.90,309.31 L312.60,309.61 L313.30,309.91 L314.00,310.21 L314.70,310.51 L315.40,310.81 L316.10,311.12 L316.80,311.42 L317.50,311.72 L318.20,312.02 L318.90,312.33 L319.60,312.63 L320.30,312.93 L321.00,313.23 L321.70,313.54 L322.40,313.84 L323.10,314.14 L323.80,314.45 L324.50,314.75 L325.20,315.05 L325.90,315.35 L326.60,315.66 L327.30,315.96 L328.00,316.26 L328.70,316.56 L329.40,316.86 L330.10,317.17 L330.80,317.47 L331.50,317.77 L332.20,318.07 L332.90,318.37 L333.60,318.67 L334.30,318.97 L335.00,319.27 L335.70,319.58 L336.40,319.88 L337.10,320.18 L337.80,320.48 L338.50,320.77 L339.20,321.07 L339.90,321.37 L340.60,321.67 L341.30,321.97 L342.00,322.27 L342.70,322.56 L343.40,322.86 L344.10,323.16 L344.80,323.46 L345.50,323.75 L346.20,324.05 L346.90,324.34 L347.60,324.64 L348.30,324.93 L349.00,325.23 L349.70,325.53 L350.40,325.82 L351.10,326.12 L351.80,326.41 L352.50,326.71 L353.20,327.01 L353.90,327.30 L354.60,327.60 L355.30,327.90 L356.00,328.19 L356.70,328.49 L357.40,328.79 L358.10,329.09 L358.80,329.39 L359.50,329.69 L360.20,330.00 L360.90,330.30 L361.60,330.60 L362.30,330.91 L363.00,331.21 L363.70,331.52 L364.40,331.83 L365.10,332.14 L365.80,332.45 L366.50,332.76 L367.20,333.07 L367.90,333.38 L368.60,333.70 L369.30,334.02 L370.00,334.34 L370.70,334.66 L371.40,334.98 L372.10,335.30 L372.80,335.63 L373.50,335.95 L374.20,336.28 L374.90,336.61 L375.60,336.94 L376.30,337.28 L377.00,337.61 L377.70,337.95 L378.40,338.29 L379.10,338.63 L379.80,338.97 L380.50,339.31 L381.20,339.66 L381.90,340.00 L382.60,340.35 L383.30,340.70 L384.00,341.05 L384.70,341.40 L385.40,341.75 L386.10,342.10 L386.80,342.46 L387.50,342.81 L388.20,343.17 L388.90,343.52 L389.60,343.88 L390.30,344.24 L391.00,344.60 L391.70,344.96 L392.40,345.32 L393.10,345.68 L393.80,346.05 L394.50,346.41 L395.20,346.78 L395.90,347.14 L396.60,347.51 L397.30,347.87 L398.00,348.24 L398.70,348.61 L399.40,348.98 L400.10,349.35 L400.80,349.71 L401.50,350.08 L402.20,350.45 L402.90,350.82 L403.60,351.19 L404.30,351.57 L405.00,351.94 L405.70,352.31 L406.40,352.68 L407.10,353.05 L407.80,353.43 L408.50,353.80 L409.20,354.17 L409.90,354.55 L410.60,354.92 L411.30,355.30 L412.00,355.67 L412.70,356.05 L413.40,356.42 L414.10,356.80 L414.80,357.18 L415.50,357.56 L416.20,357.94 L416.90,358.32 L417.60,358.70 L418.30,359.08 L419.00,359.46 L419.70,359.84 L420.40,360.22 L421.10,360.61 L421.80,360.99 L422.50,361.37 L423.20,361.76 L423.90,362.15 L424.60,362.53 L425.30,362.92 L426.00,363.31 L426.70,363.70 L427.40,364.09 L428.10,364.48 L428.80,364.87 L429.50,365.27 L430.20,365.66 L430.90,366.06 L431.60,366.45 L432.30,366.85 L433.00,367.25 L433.70,367.64 L434.40,368.04 L435.10,368.44 L435.80,368.85 L436.50,369.25 L437.20,369.65 L437.90,370.06 L438.60,370.46 L439.30,370.87 L440.00,371.28 L440.70,371.69 L441.40,372.10 L442.10,372.51 L442.80,372.92 L443.50,373.34 L444.20,373.75 L444.90,374.17 L445.60,374.58 L446.30,375.00 L447.00,375.42 L447.70,375.84 L448.40,376.27 L449.10,376.69 L449.80,377.11 L450.50,377.54 L451.20,377.97 L451.90,378.40 L452.60,378.83 L453.30,379.26 L454.00,379.69 L454.70,380.13 L455.40,380.56 L456.10,381.00 L456.80,381.44 L457.50,381.88 L458.20,382.32 L458.90,382.77 L459.60,383.21 L460.30,383.66 L461.00,384.11 L461.70,384.56 L462.40,385.01 L463.10,385.46 L463.80,385.92 L464.50,386.37 L465.20,386.83 L465.90,387.29 L466.60,387.75 L467.30,388.21" fill="none" stroke="#000" stroke-width="3.3"/>
<path d="M467.30,388.21 L467.81,388.55 L468.32,388.89 L468.84,389.24 L469.35,389.58 L469.86,389.92 L470.37,390.27 L470.88,390.61 L471.40,390.96 L471.91,391.30 L472.42,391.65 L472.93,392.00 L473.45,392.35 L473.96,392.70 L474.47,393.05 L474.98,393.41 L475.49,393.76 L476.01,394.12 L476.52,394.47 L477.03,394.83 L477.54,395.19 L478.05,395.54 L478.57,395.90 L479.08,396.27 L479.59,396.63 L480.10,396.99 L480.62,397.35 L481.13,397.72 L481.64,398.08 L482.15,398.45 L482.66,398.82 L483.18,399.19 L483.69,399.56 L484.20,399.93 L484.71,400.30 L485.22,400.67 L485.74,401.05 L486.25,401.42 L486.76,401.80 L487.27,402.18 L487.78,402.55 L488.30,402.93 L488.81,403.31 L489.32,403.70 L489.83,404.08 L490.35,404.46 L490.86,404.85 L491.37,405.23 L491.88,405.62 L492.39,406.01 L492.91,406.40 L493.42,406.79 L493.93,407.18 L494.44,407.57 L494.95,407.96 L495.47,408.36 L495.98,408.75 L496.49,409.15 L497.00,409.55 L497.52,409.95 L498.03,410.35 L498.54,410.75 L499.05,411.15 L499.56,411.56 L500.08,411.96 L500.59,412.37 L501.10,412.77 L501.61,413.18 L502.12,413.59 L502.64,414.00 L503.15,414.41 L503.66,414.83 L504.17,415.24 L504.68,415.66 L505.20,416.07 L505.71,416.49 L506.22,416.91 L506.73,417.33 L507.25,417.75 L507.76,418.17 L508.27,418.60 L508.78,419.02 L509.29,419.45 L509.81,419.88 L510.32,420.30 L510.83,420.73 L511.34,421.16 L511.85,421.60 L512.37,422.03 L512.88,422.47 L513.39,422.90 L513.90,423.34 L514.42,423.78 L514.93,424.22 L515.44,424.66 L515.95,425.10 L516.46,425.54 L516.98,425.99 L517.49,426.44 L518.00,426.88" fill="none" stroke="#000" stroke-width="3.3" stroke-dasharray="8.3 8.2" stroke-dashoffset="7.6000000000000005"/>
<path d="M110.80,341.62 L111.54,341.62 L112.28,341.62 L113.02,341.62 L113.76,341.62 L114.50,341.62 L115.24,341.62 L115.98,341.62 L116.73,341.62 L117.47,341.63 L118.21,341.63 L118.95,341.63 L119.69,341.63 L120.43,341.63 L121.17,341.64 L121.91,341.64 L122.65,341.64 L123.39,341.64 L124.13,341.65 L124.87,341.65 L125.61,341.65 L126.35,341.66 L127.10,341.66 L127.84,341.67 L128.58,341.67 L129.32,341.68 L130.06,341.68 L130.80,341.69 L131.54,341.70 L132.28,341.70 L133.02,341.71 L133.76,341.72 L134.50,341.73 L135.24,341.74 L135.98,341.75 L136.72,341.76 L137.47,341.77 L138.21,341.78 L138.95,341.79 L139.69,341.80 L140.43,341.81 L141.17,341.82 L141.91,341.84 L142.65,341.85 L143.39,341.86 L144.13,341.88 L144.87,341.89 L145.61,341.91 L146.35,341.92 L147.09,341.94 L147.84,341.96 L148.58,341.98 L149.32,341.99 L150.06,342.01 L150.80,342.03 L151.54,342.05 L152.28,342.07 L153.02,342.10 L153.76,342.12 L154.50,342.14 L155.24,342.16 L155.98,342.19 L156.72,342.21 L157.46,342.24 L158.21,342.27 L158.95,342.29 L159.69,342.32 L160.43,342.35 L161.17,342.38 L161.91,342.41 L162.65,342.44 L163.39,342.47 L164.13,342.51 L164.87,342.54 L165.61,342.57 L166.35,342.61 L167.09,342.64 L167.83,342.68 L168.57,342.72 L169.32,342.76 L170.06,342.80 L170.80,342.84 L171.54,342.88 L172.28,342.92 L173.02,342.96 L173.76,343.01 L174.50,343.05 L175.24,343.10 L175.98,343.14 L176.72,343.19 L177.46,343.24 L178.20,343.29 L178.94,343.34 L179.69,343.39 L180.43,343.44 L181.17,343.50 L181.91,343.55 L182.65,343.61 L183.39,343.67 L184.13,343.72 L184.87,343.78 L185.61,343.84 L186.35,343.90 L187.09,343.97 L187.83,344.03 L188.57,344.09 L189.31,344.16 L190.06,344.22 L190.80,344.29 L191.54,344.36 L192.28,344.43 L193.02,344.50 L193.76,344.58 L194.50,344.65 L195.24,344.72 L195.98,344.80 L196.72,344.88 L197.46,344.96 L198.20,345.04 L198.94,345.12 L199.68,345.20 L200.43,345.28 L201.17,345.37 L201.91,345.45 L202.65,345.54 L203.39,345.63 L204.13,345.72 L204.87,345.81 L205.61,345.90 L206.35,346.00 L207.09,346.09 L207.83,346.19 L208.57,346.29 L209.31,346.39 L210.05,346.49 L210.79,346.59 L211.54,346.69 L212.28,346.80 L213.02,346.91 L213.76,347.01 L214.50,347.12 L215.24,347.23 L215.98,347.35 L216.72,347.46 L217.46,347.58 L218.20,347.69 L218.94,347.81 L219.68,347.93 L220.42,348.05 L221.16,348.17 L221.91,348.30 L222.65,348.42 L223.39,348.55 L224.13,348.68 L224.87,348.80 L225.61,348.93 L226.35,349.07 L227.09,349.20 L227.83,349.33 L228.57,349.47 L229.31,349.61 L230.05,349.74 L230.79,349.88 L231.53,350.02 L232.28,350.16 L233.02,350.31 L233.76,350.45 L234.50,350.60 L235.24,350.74 L235.98,350.89 L236.72,351.04 L237.46,351.19 L238.20,351.34 L238.94,351.49 L239.68,351.64 L240.42,351.80 L241.16,351.95 L241.90,352.11 L242.65,352.27 L243.39,352.43 L244.13,352.59 L244.87,352.75 L245.61,352.91 L246.35,353.07 L247.09,353.23 L247.83,353.40 L248.57,353.56 L249.31,353.73 L250.05,353.90 L250.79,354.07 L251.53,354.23 L252.27,354.41 L253.02,354.58 L253.76,354.75 L254.50,354.92 L255.24,355.10 L255.98,355.27 L256.72,355.45 L257.46,355.62 L258.20,355.80" fill="none" stroke="#000" stroke-width="3.3" stroke-dasharray="8.3 8.2"/>
<path d="M258.20,355.80 L258.90,355.97 L259.60,356.14 L260.30,356.31 L261.00,356.48 L261.71,356.65 L262.41,356.82 L263.11,356.99 L263.81,357.17 L264.51,357.34 L265.21,357.52 L265.91,357.69 L266.61,357.87 L267.31,358.04 L268.01,358.22 L268.72,358.40 L269.42,358.58 L270.12,358.76 L270.82,358.94 L271.52,359.12 L272.22,359.30 L272.92,359.48 L273.62,359.66 L274.32,359.84 L275.02,360.03 L275.73,360.21 L276.43,360.39 L277.13,360.58 L277.83,360.76 L278.53,360.95 L279.23,361.14 L279.93,361.32 L280.63,361.51 L281.33,361.70 L282.03,361.88 L282.74,362.07 L283.44,362.26 L284.14,362.45 L284.84,362.64 L285.54,362.83 L286.24,363.02 L286.94,363.21 L287.64,363.40 L288.34,363.59 L289.04,363.78 L289.75,363.98 L290.45,364.17 L291.15,364.36 L291.85,364.55 L292.55,364.75 L293.25,364.94 L293.95,365.14 L294.65,365.33 L295.35,365.52 L296.05,365.72 L296.76,365.91 L297.46,366.11 L298.16,366.30 L298.86,366.50 L299.56,366.70 L300.26,366.89 L300.96,367.09 L301.66,367.29 L302.36,367.48 L303.06,367.68 L303.77,367.88 L304.47,368.07 L305.17,368.27 L305.87,368.47 L306.57,368.66 L307.27,368.86 L307.97,369.06 L308.67,369.26 L309.37,369.46 L310.07,369.65 L310.78,369.85 L311.48,370.05 L312.18,370.25 L312.88,370.45 L313.58,370.65 L314.28,370.84 L314.98,371.04 L315.68,371.24 L316.38,371.44 L317.08,371.64 L317.79,371.84 L318.49,372.03 L319.19,372.23 L319.89,372.43 L320.59,372.63 L321.29,372.83 L321.99,373.03 L322.69,373.22 L323.39,373.42 L324.09,373.62 L324.80,373.82 L325.50,374.02 L326.20,374.22 L326.90,374.42 L327.60,374.62 L328.30,374.82 L329.00,375.01 L329.70,375.21 L330.40,375.41 L331.10,375.61 L331.81,375.81 L332.51,376.01 L333.21,376.21 L333.91,376.41 L334.61,376.61 L335.31,376.81 L336.01,377.01 L336.71,377.22 L337.41,377.42 L338.11,377.62 L338.82,377.82 L339.52,378.02 L340.22,378.22 L340.92,378.42 L341.62,378.63 L342.32,378.83 L343.02,379.03 L343.72,379.23 L344.42,379.44 L345.12,379.64 L345.83,379.84 L346.53,380.05 L347.23,380.25 L347.93,380.45 L348.63,380.66 L349.33,380.86 L350.03,381.07 L350.73,381.27 L351.43,381.48 L352.13,381.69 L352.84,381.89 L353.54,382.10 L354.24,382.31 L354.94,382.51 L355.64,382.72 L356.34,382.93 L357.04,383.14 L357.74,383.34 L358.44,383.55 L359.14,383.76 L359.85,383.97 L360.55,384.18 L361.25,384.39 L361.95,384.60 L362.65,384.81 L363.35,385.02 L364.05,385.24 L364.75,385.45 L365.45,385.66 L366.15,385.87 L366.86,386.09 L367.56,386.30 L368.26,386.51 L368.96,386.73 L369.66,386.94 L370.36,387.16 L371.06,387.38 L371.76,387.59 L372.46,387.81 L373.16,388.03 L373.87,388.24 L374.57,388.46 L375.27,388.68 L375.97,388.90 L376.67,389.12 L377.37,389.34 L378.07,389.56 L378.77,389.78 L379.47,390.00 L380.17,390.23 L380.88,390.45 L381.58,390.67 L382.28,390.90 L382.98,391.12 L383.68,391.34 L384.38,391.57 L385.08,391.80 L385.78,392.02 L386.48,392.25 L387.18,392.48 L387.89,392.71 L388.59,392.93 L389.29,393.16 L389.99,393.39 L390.69,393.63 L391.39,393.86 L392.09,394.09 L392.79,394.32 L393.49,394.55 L394.19,394.79 L394.90,395.02 L395.60,395.26 L396.30,395.49 L397.00,395.73 L397.70,395.97 L398.40,396.20 L399.10,396.44 L399.80,396.68 L400.50,396.92 L401.20,397.16 L401.91,397.40 L402.61,397.65 L403.31,397.89 L404.01,398.13 L404.71,398.38 L405.41,398.62 L406.11,398.87 L406.81,399.11 L407.51,399.36 L408.21,399.61 L408.92,399.85 L409.62,400.10 L410.32,400.35 L411.02,400.60 L411.72,400.86 L412.42,401.11 L413.12,401.36 L413.82,401.62 L414.52,401.87 L415.22,402.13 L415.93,402.38 L416.63,402.64 L417.33,402.90 L418.03,403.16 L418.73,403.42 L419.43,403.68 L420.13,403.94 L420.83,404.20 L421.53,404.46 L422.23,404.73 L422.94,404.99 L423.64,405.26 L424.34,405.52 L425.04,405.79 L425.74,406.06 L426.44,406.33 L427.14,406.60 L427.84,406.87 L428.54,407.14 L429.24,407.41 L429.95,407.69 L430.65,407.96 L431.35,408.24 L432.05,408.51 L432.75,408.79 L433.45,409.07 L434.15,409.35 L434.85,409.63 L435.55,409.91 L436.25,410.19 L436.96,410.48 L437.66,410.76 L438.36,411.05 L439.06,411.33 L439.76,411.62 L440.46,411.91 L441.16,412.20 L441.86,412.49 L442.56,412.78 L443.26,413.07 L443.97,413.36 L444.67,413.66 L445.37,413.96 L446.07,414.25 L446.77,414.55 L447.47,414.85 L448.17,415.15 L448.87,415.45 L449.57,415.75 L450.27,416.05 L450.98,416.36 L451.68,416.66 L452.38,416.97 L453.08,417.28 L453.78,417.59 L454.48,417.90 L455.18,418.21 L455.88,418.52 L456.58,418.83 L457.28,419.15 L457.99,419.46 L458.69,419.78 L459.39,420.10 L460.09,420.41 L460.79,420.73 L461.49,421.06 L462.19,421.38 L462.89,421.70 L463.59,422.03 L464.29,422.35 L465.00,422.68 L465.70,423.01 L466.40,423.34 L467.10,423.67 L467.80,424.00" fill="none" stroke="#000" stroke-width="3.3"/>
<path d="M467.80,424.00 L468.31,424.24 L468.81,424.48 L469.32,424.73 L469.83,424.97 L470.34,425.21 L470.84,425.46 L471.35,425.70 L471.86,425.95 L472.36,426.19 L472.87,426.44 L473.38,426.69 L473.88,426.94 L474.39,427.19 L474.90,427.44 L475.41,427.69 L475.91,427.94 L476.42,428.19 L476.93,428.44 L477.43,428.70 L477.94,428.95 L478.45,429.20 L478.96,429.46 L479.46,429.71 L479.97,429.97 L480.48,430.23 L480.98,430.49 L481.49,430.75 L482.00,431.00 L482.51,431.26 L483.01,431.53 L483.52,431.79 L484.03,432.05 L484.53,432.31 L485.04,432.58 L485.55,432.84 L486.05,433.11 L486.56,433.37 L487.07,433.64 L487.58,433.91 L488.08,434.17 L488.59,434.44 L489.10,434.71 L489.60,434.98 L490.11,435.25 L490.62,435.52 L491.13,435.80 L491.63,436.07 L492.14,436.34 L492.65,436.62 L493.15,436.89 L493.66,437.17 L494.17,437.45 L494.67,437.73 L495.18,438.00 L495.69,438.28 L496.20,438.56 L496.70,438.84 L497.21,439.13 L497.72,439.41 L498.22,439.69 L498.73,439.98 L499.24,440.26 L499.75,440.55 L500.25,440.83 L500.76,441.12 L501.27,441.41 L501.77,441.70 L502.28,441.99 L502.79,442.28 L503.29,442.57 L503.80,442.86 L504.31,443.15 L504.82,443.44 L505.32,443.74 L505.83,444.03 L506.34,444.33 L506.84,444.63 L507.35,444.92 L507.86,445.22 L508.37,445.52 L508.87,445.82 L509.38,446.12 L509.89,446.42 L510.39,446.73 L510.90,447.03 L511.41,447.33 L511.92,447.64 L512.42,447.94 L512.93,448.25 L513.44,448.56 L513.94,448.87 L514.45,449.18 L514.96,449.49 L515.46,449.80 L515.97,450.11 L516.48,450.42 L516.99,450.74 L517.49,451.05 L518.00,451.36" fill="none" stroke="#000" stroke-width="3.3" stroke-dasharray="8.3 8.2" stroke-dashoffset="7.6000000000000005"/>
<path d="M110.80,386.12 L111.54,386.12 L112.28,386.13 L113.02,386.13 L113.76,386.14 L114.50,386.14 L115.24,386.15 L115.98,386.15 L116.72,386.16 L117.46,386.17 L118.20,386.17 L118.94,386.18 L119.68,386.19 L120.42,386.20 L121.16,386.20 L121.90,386.21 L122.64,386.22 L123.37,386.23 L124.11,386.24 L124.85,386.25 L125.59,386.26 L126.33,386.27 L127.07,386.28 L127.81,386.29 L128.55,386.30 L129.29,386.31 L130.03,386.33 L130.77,386.34 L131.51,386.35 L132.25,386.36 L132.99,386.38 L133.73,386.39 L134.47,386.40 L135.21,386.42 L135.95,386.43 L136.69,386.45 L137.43,386.46 L138.17,386.48 L138.91,386.50 L139.65,386.51 L140.39,386.53 L141.13,386.55 L141.87,386.56 L142.61,386.58 L143.35,386.60 L144.09,386.62 L144.83,386.64 L145.57,386.66 L146.31,386.68 L147.05,386.70 L147.78,386.72 L148.52,386.74 L149.26,386.76 L150.00,386.79 L150.74,386.81 L151.48,386.83 L152.22,386.86 L152.96,386.88 L153.70,386.90 L154.44,386.93 L155.18,386.95 L155.92,386.98 L156.66,387.01 L157.40,387.03 L158.14,387.06 L158.88,387.09 L159.62,387.12 L160.36,387.14 L161.10,387.17 L161.84,387.20 L162.58,387.23 L163.32,387.26 L164.06,387.29 L164.80,387.33 L165.54,387.36 L166.28,387.39 L167.02,387.42 L167.76,387.46 L168.50,387.49 L169.24,387.52 L169.98,387.56 L170.72,387.59 L171.46,387.63 L172.19,387.67 L172.93,387.70 L173.67,387.74 L174.41,387.78 L175.15,387.82 L175.89,387.86 L176.63,387.90 L177.37,387.94 L178.11,387.98 L178.85,388.02 L179.59,388.06 L180.33,388.10 L181.07,388.14 L181.81,388.19 L182.55,388.23 L183.29,388.28 L184.03,388.32 L184.77,388.37 L185.51,388.41 L186.25,388.46 L186.99,388.51 L187.73,388.55 L188.47,388.60 L189.21,388.65 L189.95,388.70 L190.69,388.75 L191.43,388.80 L192.17,388.85 L192.91,388.90 L193.65,388.96 L194.39,389.01 L195.13,389.06 L195.87,389.12 L196.61,389.17 L197.34,389.23 L198.08,389.28 L198.82,389.34 L199.56,389.40 L200.30,389.46 L201.04,389.52 L201.78,389.57 L202.52,389.63 L203.26,389.69 L204.00,389.76 L204.74,389.82 L205.48,389.88 L206.22,389.94 L206.96,390.01 L207.70,390.07 L208.44,390.14 L209.18,390.20 L209.92,390.27 L210.66,390.34 L211.40,390.40 L212.14,390.47 L212.88,390.54 L213.62,390.61 L214.36,390.68 L215.10,390.75 L215.84,390.82 L216.58,390.90 L217.32,390.97 L218.06,391.04 L218.80,391.12 L219.54,391.19 L220.28,391.27 L221.02,391.35 L221.75,391.42 L222.49,391.50 L223.23,391.58 L223.97,391.66 L224.71,391.74 L225.45,391.82 L226.19,391.90 L226.93,391.99 L227.67,392.07 L228.41,392.15 L229.15,392.24 L229.89,392.32 L230.63,392.41 L231.37,392.50 L232.11,392.59 L232.85,392.67 L233.59,392.76 L234.33,392.85 L235.07,392.95 L235.81,393.04 L236.55,393.13 L237.29,393.22 L238.03,393.32 L238.77,393.41 L239.51,393.51 L240.25,393.61 L240.99,393.70 L241.73,393.80 L242.47,393.90 L243.21,394.00 L243.95,394.10 L244.69,394.20 L245.43,394.31 L246.16,394.41 L246.90,394.51 L247.64,394.62 L248.38,394.72 L249.12,394.83 L249.86,394.94 L250.60,395.05 L251.34,395.16 L252.08,395.27 L252.82,395.38 L253.56,395.49 L254.30,395.60 L255.04,395.72 L255.78,395.83 L256.52,395.95 L257.26,396.07 L258.00,396.18" fill="none" stroke="#000" stroke-width="3.3" stroke-dasharray="8.3 8.2"/>
<path d="M258.00,396.18 L258.70,396.30 L259.40,396.41 L260.11,396.52 L260.81,396.64 L261.51,396.75 L262.21,396.87 L262.91,396.99 L263.61,397.10 L264.32,397.22 L265.02,397.34 L265.72,397.46 L266.42,397.58 L267.12,397.70 L267.82,397.83 L268.53,397.95 L269.23,398.07 L269.93,398.20 L270.63,398.32 L271.33,398.45 L272.03,398.57 L272.74,398.70 L273.44,398.83 L274.14,398.95 L274.84,399.08 L275.54,399.21 L276.24,399.34 L276.95,399.47 L277.65,399.60 L278.35,399.73 L279.05,399.86 L279.75,399.99 L280.45,400.13 L281.16,400.26 L281.86,400.39 L282.56,400.53 L283.26,400.66 L283.96,400.80 L284.66,400.93 L285.37,401.07 L286.07,401.20 L286.77,401.34 L287.47,401.48 L288.17,401.61 L288.87,401.75 L289.58,401.89 L290.28,402.02 L290.98,402.16 L291.68,402.30 L292.38,402.44 L293.08,402.58 L293.79,402.72 L294.49,402.86 L295.19,403.00 L295.89,403.14 L296.59,403.28 L297.29,403.42 L298.00,403.56 L298.70,403.70 L299.40,403.84 L300.10,403.99 L300.80,404.13 L301.50,404.27 L302.21,404.41 L302.91,404.55 L303.61,404.69 L304.31,404.84 L305.01,404.98 L305.71,405.12 L306.42,405.26 L307.12,405.41 L307.82,405.55 L308.52,405.69 L309.22,405.83 L309.92,405.98 L310.63,406.12 L311.33,406.26 L312.03,406.41 L312.73,406.55 L313.43,406.69 L314.13,406.83 L314.84,406.98 L315.54,407.12 L316.24,407.26 L316.94,407.40 L317.64,407.55 L318.34,407.69 L319.05,407.83 L319.75,407.97 L320.45,408.11 L321.15,408.26 L321.85,408.40 L322.55,408.54 L323.26,408.68 L323.96,408.83 L324.66,408.97 L325.36,409.11 L326.06,409.25 L326.76,409.39 L327.47,409.54 L328.17,409.68 L328.87,409.82 L329.57,409.96 L330.27,410.11 L330.97,410.25 L331.68,410.39 L332.38,410.53 L333.08,410.68 L333.78,410.82 L334.48,410.96 L335.18,411.11 L335.89,411.25 L336.59,411.39 L337.29,411.54 L337.99,411.68 L338.69,411.82 L339.39,411.97 L340.10,412.11 L340.80,412.26 L341.50,412.40 L342.20,412.54 L342.90,412.69 L343.60,412.83 L344.31,412.98 L345.01,413.13 L345.71,413.27 L346.41,413.42 L347.11,413.56 L347.81,413.71 L348.52,413.86 L349.22,414.00 L349.92,414.15 L350.62,414.30 L351.32,414.45 L352.02,414.59 L352.73,414.74 L353.43,414.89 L354.13,415.04 L354.83,415.19 L355.53,415.34 L356.23,415.49 L356.94,415.64 L357.64,415.79 L358.34,415.94 L359.04,416.09 L359.74,416.25 L360.44,416.40 L361.15,416.55 L361.85,416.70 L362.55,416.86 L363.25,417.01 L363.95,417.16 L364.65,417.32 L365.36,417.47 L366.06,417.63 L366.76,417.78 L367.46,417.94 L368.16,418.10 L368.86,418.25 L369.57,418.41 L370.27,418.57 L370.97,418.73 L371.67,418.89 L372.37,419.05 L373.07,419.21 L373.78,419.37 L374.48,419.53 L375.18,419.69 L375.88,419.85 L376.58,420.02 L377.28,420.18 L377.99,420.34 L378.69,420.51 L379.39,420.67 L380.09,420.84 L380.79,421.01 L381.49,421.17 L382.20,421.34 L382.90,421.51 L383.60,421.68 L384.30,421.85 L385.00,422.02 L385.70,422.19 L386.41,422.36 L387.11,422.53 L387.81,422.70 L388.51,422.87 L389.21,423.05 L389.91,423.22 L390.62,423.40 L391.32,423.57 L392.02,423.75 L392.72,423.93 L393.42,424.11 L394.12,424.29 L394.83,424.47 L395.53,424.65 L396.23,424.83 L396.93,425.01 L397.63,425.19 L398.33,425.38 L399.04,425.56 L399.74,425.75 L400.44,425.93 L401.14,426.12 L401.84,426.31 L402.54,426.49 L403.25,426.68 L403.95,426.87 L404.65,427.06 L405.35,427.26 L406.05,427.45 L406.75,427.64 L407.46,427.84 L408.16,428.03 L408.86,428.23 L409.56,428.43 L410.26,428.62 L410.96,428.82 L411.67,429.02 L412.37,429.22 L413.07,429.42 L413.77,429.62 L414.47,429.82 L415.17,430.03 L415.88,430.23 L416.58,430.44 L417.28,430.64 L417.98,430.85 L418.68,431.05 L419.38,431.26 L420.09,431.47 L420.79,431.68 L421.49,431.89 L422.19,432.10 L422.89,432.31 L423.59,432.52 L424.30,432.74 L425.00,432.95 L425.70,433.16 L426.40,433.38 L427.10,433.59 L427.80,433.81 L428.51,434.03 L429.21,434.25 L429.91,434.46 L430.61,434.68 L431.31,434.90 L432.01,435.12 L432.72,435.34 L433.42,435.57 L434.12,435.79 L434.82,436.01 L435.52,436.23 L436.22,436.46 L436.93,436.68 L437.63,436.91 L438.33,437.14 L439.03,437.36 L439.73,437.59 L440.43,437.82 L441.14,438.05 L441.84,438.28 L442.54,438.51 L443.24,438.74 L443.94,438.97 L444.64,439.20 L445.35,439.43 L446.05,439.66 L446.75,439.90 L447.45,440.13 L448.15,440.37 L448.85,440.60 L449.56,440.84 L450.26,441.07 L450.96,441.31 L451.66,441.55 L452.36,441.79 L453.06,442.02 L453.77,442.26 L454.47,442.50 L455.17,442.74 L455.87,442.98 L456.57,443.22 L457.27,443.47 L457.98,443.71 L458.68,443.95 L459.38,444.19 L460.08,444.44 L460.78,444.68 L461.48,444.93 L462.19,445.17 L462.89,445.42 L463.59,445.66 L464.29,445.91 L464.99,446.16 L465.69,446.40 L466.40,446.65 L467.10,446.90 L467.80,447.15" fill="none" stroke="#000" stroke-width="3.3"/>
<path d="M467.80,447.15 L468.31,447.33 L468.81,447.51 L469.32,447.69 L469.83,447.87 L470.34,448.05 L470.84,448.23 L471.35,448.41 L471.86,448.59 L472.36,448.77 L472.87,448.96 L473.38,449.14 L473.88,449.32 L474.39,449.50 L474.90,449.68 L475.41,449.87 L475.91,450.05 L476.42,450.23 L476.93,450.42 L477.43,450.60 L477.94,450.78 L478.45,450.97 L478.96,451.15 L479.46,451.33 L479.97,451.52 L480.48,451.70 L480.98,451.89 L481.49,452.07 L482.00,452.25 L482.51,452.44 L483.01,452.62 L483.52,452.81 L484.03,452.99 L484.53,453.18 L485.04,453.36 L485.55,453.55 L486.05,453.74 L486.56,453.92 L487.07,454.11 L487.58,454.29 L488.08,454.48 L488.59,454.66 L489.10,454.85 L489.60,455.04 L490.11,455.22 L490.62,455.41 L491.13,455.59 L491.63,455.78 L492.14,455.97 L492.65,456.15 L493.15,456.34 L493.66,456.53 L494.17,456.71 L494.67,456.90 L495.18,457.09 L495.69,457.28 L496.20,457.46 L496.70,457.65 L497.21,457.84 L497.72,458.02 L498.22,458.21 L498.73,458.40 L499.24,458.59 L499.75,458.77 L500.25,458.96 L500.76,459.15 L501.27,459.33 L501.77,459.52 L502.28,459.71 L502.79,459.90 L503.29,460.08 L503.80,460.27 L504.31,460.46 L504.82,460.65 L505.32,460.83 L505.83,461.02 L506.34,461.21 L506.84,461.39 L507.35,461.58 L507.86,461.77 L508.37,461.96 L508.87,462.14 L509.38,462.33 L509.89,462.52 L510.39,462.70 L510.90,462.89 L511.41,463.08 L511.92,463.27 L512.42,463.45 L512.93,463.64 L513.44,463.83 L513.94,464.01 L514.45,464.20 L514.96,464.39 L515.46,464.57 L515.97,464.76 L516.48,464.95 L516.99,465.13 L517.49,465.32 L518.00,465.50" fill="none" stroke="#000" stroke-width="3.3" stroke-dasharray="8.3 8.2" stroke-dashoffset="7.6000000000000005"/>
<path d="M110.80,423.39 L111.54,423.38 L112.28,423.38 L113.02,423.38 L113.76,423.37 L114.50,423.37 L115.24,423.37 L115.98,423.37 L116.72,423.36 L117.46,423.36 L118.20,423.36 L118.94,423.36 L119.68,423.36 L120.42,423.37 L121.16,423.37 L121.90,423.37 L122.64,423.37 L123.37,423.38 L124.11,423.38 L124.85,423.38 L125.59,423.39 L126.33,423.39 L127.07,423.40 L127.81,423.40 L128.55,423.41 L129.29,423.42 L130.03,423.43 L130.77,423.43 L131.51,423.44 L132.25,423.45 L132.99,423.46 L133.73,423.47 L134.47,423.48 L135.21,423.49 L135.95,423.50 L136.69,423.51 L137.43,423.53 L138.17,423.54 L138.91,423.55 L139.65,423.57 L140.39,423.58 L141.13,423.59 L141.87,423.61 L142.61,423.63 L143.35,423.64 L144.09,423.66 L144.83,423.68 L145.57,423.69 L146.31,423.71 L147.05,423.73 L147.78,423.75 L148.52,423.77 L149.26,423.79 L150.00,423.81 L150.74,423.83 L151.48,423.85 L152.22,423.87 L152.96,423.89 L153.70,423.92 L154.44,423.94 L155.18,423.96 L155.92,423.99 L156.66,424.01 L157.40,424.04 L158.14,424.06 L158.88,424.09 L159.62,424.12 L160.36,424.14 L161.10,424.17 L161.84,424.20 L162.58,424.23 L163.32,424.26 L164.06,424.29 L164.80,424.32 L165.54,424.35 L166.28,424.38 L167.02,424.41 L167.76,424.44 L168.50,424.47 L169.24,424.51 L169.98,424.54 L170.72,424.58 L171.46,424.61 L172.19,424.64 L172.93,424.68 L173.67,424.72 L174.41,424.75 L175.15,424.79 L175.89,424.83 L176.63,424.86 L177.37,424.90 L178.11,424.94 L178.85,424.98 L179.59,425.02 L180.33,425.06 L181.07,425.10 L181.81,425.14 L182.55,425.18 L183.29,425.23 L184.03,425.27 L184.77,425.31 L185.51,425.36 L186.25,425.40 L186.99,425.44 L187.73,425.49 L188.47,425.54 L189.21,425.58 L189.95,425.63 L190.69,425.67 L191.43,425.72 L192.17,425.77 L192.91,425.82 L193.65,425.87 L194.39,425.92 L195.13,425.97 L195.87,426.02 L196.61,426.07 L197.34,426.12 L198.08,426.17 L198.82,426.22 L199.56,426.28 L200.30,426.33 L201.04,426.39 L201.78,426.44 L202.52,426.49 L203.26,426.55 L204.00,426.61 L204.74,426.66 L205.48,426.72 L206.22,426.78 L206.96,426.83 L207.70,426.89 L208.44,426.95 L209.18,427.01 L209.92,427.07 L210.66,427.13 L211.40,427.19 L212.14,427.25 L212.88,427.31 L213.62,427.38 L214.36,427.44 L215.10,427.50 L215.84,427.57 L216.58,427.63 L217.32,427.70 L218.06,427.76 L218.80,427.83 L219.54,427.89 L220.28,427.96 L221.02,428.03 L221.75,428.09 L222.49,428.16 L223.23,428.23 L223.97,428.30 L224.71,428.37 L225.45,428.44 L226.19,428.51 L226.93,428.58 L227.67,428.65 L228.41,428.72 L229.15,428.79 L229.89,428.87 L230.63,428.94 L231.37,429.01 L232.11,429.08 L232.85,429.16 L233.59,429.23 L234.33,429.31 L235.07,429.38 L235.81,429.46 L236.55,429.54 L237.29,429.61 L238.03,429.69 L238.77,429.77 L239.51,429.84 L240.25,429.92 L240.99,430.00 L241.73,430.08 L242.47,430.16 L243.21,430.24 L243.95,430.32 L244.69,430.40 L245.43,430.48 L246.16,430.56 L246.90,430.64 L247.64,430.72 L248.38,430.80 L249.12,430.89 L249.86,430.97 L250.60,431.05 L251.34,431.14 L252.08,431.22 L252.82,431.30 L253.56,431.39 L254.30,431.47 L255.04,431.56 L255.78,431.64 L256.52,431.73 L257.26,431.81 L258.00,431.90" fill="none" stroke="#000" stroke-width="3.3" stroke-dasharray="8.3 8.2"/>
<path d="M258.00,431.90 L258.70,431.98 L259.40,432.07 L260.11,432.15 L260.81,432.23 L261.51,432.31 L262.21,432.40 L262.91,432.48 L263.61,432.56 L264.32,432.65 L265.02,432.73 L265.72,432.82 L266.42,432.90 L267.12,432.99 L267.82,433.07 L268.53,433.16 L269.23,433.24 L269.93,433.33 L270.63,433.42 L271.33,433.50 L272.03,433.59 L272.74,433.68 L273.44,433.76 L274.14,433.85 L274.84,433.94 L275.54,434.03 L276.24,434.12 L276.95,434.20 L277.65,434.29 L278.35,434.38 L279.05,434.47 L279.75,434.56 L280.45,434.65 L281.16,434.74 L281.86,434.83 L282.56,434.92 L283.26,435.01 L283.96,435.10 L284.66,435.19 L285.37,435.28 L286.07,435.37 L286.77,435.46 L287.47,435.55 L288.17,435.64 L288.87,435.73 L289.58,435.82 L290.28,435.91 L290.98,436.01 L291.68,436.10 L292.38,436.19 L293.08,436.28 L293.79,436.37 L294.49,436.47 L295.19,436.56 L295.89,436.65 L296.59,436.74 L297.29,436.84 L298.00,436.93 L298.70,437.02 L299.40,437.12 L300.10,437.21 L300.80,437.30 L301.50,437.40 L302.21,437.49 L302.91,437.58 L303.61,437.68 L304.31,437.77 L305.01,437.87 L305.71,437.96 L306.42,438.05 L307.12,438.15 L307.82,438.24 L308.52,438.34 L309.22,438.43 L309.92,438.53 L310.63,438.62 L311.33,438.71 L312.03,438.81 L312.73,438.90 L313.43,439.00 L314.13,439.09 L314.84,439.19 L315.54,439.28 L316.24,439.38 L316.94,439.47 L317.64,439.57 L318.34,439.67 L319.05,439.76 L319.75,439.86 L320.45,439.95 L321.15,440.05 L321.85,440.14 L322.55,440.24 L323.26,440.33 L323.96,440.43 L324.66,440.53 L325.36,440.62 L326.06,440.72 L326.76,440.81 L327.47,440.91 L328.17,441.01 L328.87,441.10 L329.57,441.20 L330.27,441.30 L330.97,441.39 L331.68,441.49 L332.38,441.59 L333.08,441.68 L333.78,441.78 L334.48,441.88 L335.18,441.97 L335.89,442.07 L336.59,442.17 L337.29,442.27 L337.99,442.37 L338.69,442.46 L339.39,442.56 L340.10,442.66 L340.80,442.76 L341.50,442.86 L342.20,442.95 L342.90,443.05 L343.60,443.15 L344.31,443.25 L345.01,443.35 L345.71,443.45 L346.41,443.55 L347.11,443.65 L347.81,443.75 L348.52,443.85 L349.22,443.95 L349.92,444.05 L350.62,444.15 L351.32,444.25 L352.02,444.35 L352.73,444.45 L353.43,444.55 L354.13,444.65 L354.83,444.76 L355.53,444.86 L356.23,444.96 L356.94,445.06 L357.64,445.16 L358.34,445.27 L359.04,445.37 L359.74,445.47 L360.44,445.57 L361.15,445.68 L361.85,445.78 L362.55,445.89 L363.25,445.99 L363.95,446.09 L364.65,446.20 L365.36,446.30 L366.06,446.41 L366.76,446.51 L367.46,446.62 L368.16,446.72 L368.86,446.83 L369.57,446.93 L370.27,447.04 L370.97,447.15 L371.67,447.25 L372.37,447.36 L373.07,447.47 L373.78,447.57 L374.48,447.68 L375.18,447.79 L375.88,447.90 L376.58,448.01 L377.28,448.11 L377.99,448.22 L378.69,448.33 L379.39,448.44 L380.09,448.55 L380.79,448.66 L381.49,448.77 L382.20,448.88 L382.90,448.99 L383.60,449.10 L384.30,449.22 L385.00,449.33 L385.70,449.44 L386.41,449.55 L387.11,449.66 L387.81,449.78 L388.51,449.89 L389.21,450.00 L389.91,450.12 L390.62,450.23 L391.32,450.34 L392.02,450.46 L392.72,450.57 L393.42,450.69 L394.12,450.80 L394.83,450.92 L395.53,451.04 L396.23,451.15 L396.93,451.27 L397.63,451.39 L398.33,451.51 L399.04,451.62 L399.74,451.74 L400.44,451.86 L401.14,451.98 L401.84,452.10 L402.54,452.22 L403.25,452.34 L403.95,452.46 L404.65,452.58 L405.35,452.70 L406.05,452.82 L406.75,452.94 L407.46,453.06 L408.16,453.19 L408.86,453.31 L409.56,453.43 L410.26,453.56 L410.96,453.68 L411.67,453.80 L412.37,453.93 L413.07,454.05 L413.77,454.18 L414.47,454.31 L415.17,454.43 L415.88,454.56 L416.58,454.68 L417.28,454.81 L417.98,454.94 L418.68,455.07 L419.38,455.20 L420.09,455.33 L420.79,455.46 L421.49,455.59 L422.19,455.72 L422.89,455.85 L423.59,455.98 L424.30,456.11 L425.00,456.24 L425.70,456.37 L426.40,456.51 L427.10,456.64 L427.80,456.77 L428.51,456.91 L429.21,457.04 L429.91,457.18 L430.61,457.31 L431.31,457.45 L432.01,457.58 L432.72,457.72 L433.42,457.86 L434.12,458.00 L434.82,458.13 L435.52,458.27 L436.22,458.41 L436.93,458.55 L437.63,458.69 L438.33,458.83 L439.03,458.97 L439.73,459.11 L440.43,459.26 L441.14,459.40 L441.84,459.54 L442.54,459.68 L443.24,459.83 L443.94,459.97 L444.64,460.12 L445.35,460.26 L446.05,460.41 L446.75,460.55 L447.45,460.70 L448.15,460.85 L448.85,461.00 L449.56,461.14 L450.26,461.29 L450.96,461.44 L451.66,461.59 L452.36,461.74 L453.06,461.89 L453.77,462.05 L454.47,462.20 L455.17,462.35 L455.87,462.50 L456.57,462.66 L457.27,462.81 L457.98,462.96 L458.68,463.12 L459.38,463.28 L460.08,463.43 L460.78,463.59 L461.48,463.75 L462.19,463.90 L462.89,464.06 L463.59,464.22 L464.29,464.38 L464.99,464.54 L465.69,464.70 L466.40,464.86 L467.10,465.03 L467.80,465.19" fill="none" stroke="#000" stroke-width="3.3"/>
<path d="M467.80,465.19 L468.31,465.31 L468.81,465.42 L469.32,465.54 L469.83,465.66 L470.34,465.78 L470.84,465.90 L471.35,466.02 L471.86,466.14 L472.36,466.26 L472.87,466.38 L473.38,466.50 L473.88,466.62 L474.39,466.74 L474.90,466.86 L475.41,466.99 L475.91,467.11 L476.42,467.23 L476.93,467.35 L477.43,467.48 L477.94,467.60 L478.45,467.72 L478.96,467.85 L479.46,467.97 L479.97,468.10 L480.48,468.22 L480.98,468.35 L481.49,468.47 L482.00,468.60 L482.51,468.73 L483.01,468.85 L483.52,468.98 L484.03,469.11 L484.53,469.24 L485.04,469.36 L485.55,469.49 L486.05,469.62 L486.56,469.75 L487.07,469.88 L487.58,470.01 L488.08,470.14 L488.59,470.27 L489.10,470.40 L489.60,470.53 L490.11,470.66 L490.62,470.80 L491.13,470.93 L491.63,471.06 L492.14,471.19 L492.65,471.33 L493.15,471.46 L493.66,471.59 L494.17,471.73 L494.67,471.86 L495.18,472.00 L495.69,472.13 L496.20,472.27 L496.70,472.41 L497.21,472.54 L497.72,472.68 L498.22,472.82 L498.73,472.95 L499.24,473.09 L499.75,473.23 L500.25,473.37 L500.76,473.51 L501.27,473.65 L501.77,473.78 L502.28,473.92 L502.79,474.07 L503.29,474.21 L503.80,474.35 L504.31,474.49 L504.82,474.63 L505.32,474.77 L505.83,474.91 L506.34,475.06 L506.84,475.20 L507.35,475.34 L507.86,475.49 L508.37,475.63 L508.87,475.78 L509.38,475.92 L509.89,476.07 L510.39,476.21 L510.90,476.36 L511.41,476.51 L511.92,476.65 L512.42,476.80 L512.93,476.95 L513.44,477.10 L513.94,477.24 L514.45,477.39 L514.96,477.54 L515.46,477.69 L515.97,477.84 L516.48,477.99 L516.99,478.14 L517.49,478.30 L518.00,478.45" fill="none" stroke="#000" stroke-width="3.3" stroke-dasharray="8.3 8.2" stroke-dashoffset="7.6000000000000005"/>
<path d="M110.80,446.03 L111.54,446.02 L112.28,446.02 L113.02,446.01 L113.76,446.01 L114.50,446.00 L115.24,446.00 L115.98,446.00 L116.72,445.99 L117.46,445.99 L118.20,445.99 L118.94,445.98 L119.68,445.98 L120.42,445.98 L121.16,445.98 L121.90,445.98 L122.64,445.98 L123.37,445.98 L124.11,445.98 L124.85,445.99 L125.59,445.99 L126.33,445.99 L127.07,445.99 L127.81,446.00 L128.55,446.00 L129.29,446.01 L130.03,446.01 L130.77,446.02 L131.51,446.02 L132.25,446.03 L132.99,446.03 L133.73,446.04 L134.47,446.05 L135.21,446.06 L135.95,446.06 L136.69,446.07 L137.43,446.08 L138.17,446.09 L138.91,446.10 L139.65,446.11 L140.39,446.12 L141.13,446.13 L141.87,446.14 L142.61,446.16 L143.35,446.17 L144.09,446.18 L144.83,446.19 L145.57,446.21 L146.31,446.22 L147.05,446.24 L147.78,446.25 L148.52,446.27 L149.26,446.28 L150.00,446.30 L150.74,446.31 L151.48,446.33 L152.22,446.35 L152.96,446.37 L153.70,446.38 L154.44,446.40 L155.18,446.42 L155.92,446.44 L156.66,446.46 L157.40,446.48 L158.14,446.50 L158.88,446.52 L159.62,446.54 L160.36,446.56 L161.10,446.58 L161.84,446.61 L162.58,446.63 L163.32,446.65 L164.06,446.68 L164.80,446.70 L165.54,446.72 L166.28,446.75 L167.02,446.77 L167.76,446.80 L168.50,446.82 L169.24,446.85 L169.98,446.88 L170.72,446.90 L171.46,446.93 L172.19,446.96 L172.93,446.99 L173.67,447.01 L174.41,447.04 L175.15,447.07 L175.89,447.10 L176.63,447.13 L177.37,447.16 L178.11,447.19 L178.85,447.22 L179.59,447.25 L180.33,447.28 L181.07,447.32 L181.81,447.35 L182.55,447.38 L183.29,447.41 L184.03,447.45 L184.77,447.48 L185.51,447.51 L186.25,447.55 L186.99,447.58 L187.73,447.62 L188.47,447.65 L189.21,447.69 L189.95,447.73 L190.69,447.76 L191.43,447.80 L192.17,447.84 L192.91,447.87 L193.65,447.91 L194.39,447.95 L195.13,447.99 L195.87,448.02 L196.61,448.06 L197.34,448.10 L198.08,448.14 L198.82,448.18 L199.56,448.22 L200.30,448.26 L201.04,448.30 L201.78,448.35 L202.52,448.39 L203.26,448.43 L204.00,448.47 L204.74,448.51 L205.48,448.56 L206.22,448.60 L206.96,448.64 L207.70,448.69 L208.44,448.73 L209.18,448.77 L209.92,448.82 L210.66,448.86 L211.40,448.91 L212.14,448.96 L212.88,449.00 L213.62,449.05 L214.36,449.09 L215.10,449.14 L215.84,449.19 L216.58,449.24 L217.32,449.28 L218.06,449.33 L218.80,449.38 L219.54,449.43 L220.28,449.48 L221.02,449.53 L221.75,449.58 L222.49,449.62 L223.23,449.67 L223.97,449.73 L224.71,449.78 L225.45,449.83 L226.19,449.88 L226.93,449.93 L227.67,449.98 L228.41,450.03 L229.15,450.08 L229.89,450.14 L230.63,450.19 L231.37,450.24 L232.11,450.30 L232.85,450.35 L233.59,450.40 L234.33,450.46 L235.07,450.51 L235.81,450.57 L236.55,450.62 L237.29,450.68 L238.03,450.73 L238.77,450.79 L239.51,450.84 L240.25,450.90 L240.99,450.96 L241.73,451.01 L242.47,451.07 L243.21,451.13 L243.95,451.19 L244.69,451.24 L245.43,451.30 L246.16,451.36 L246.90,451.42 L247.64,451.48 L248.38,451.54 L249.12,451.60 L249.86,451.66 L250.60,451.72 L251.34,451.78 L252.08,451.84 L252.82,451.90 L253.56,451.96 L254.30,452.02 L255.04,452.08 L255.78,452.14 L256.52,452.20 L257.26,452.26 L258.00,452.33" fill="none" stroke="#000" stroke-width="3.3" stroke-dasharray="8.3 8.2"/>
<path d="M258.00,452.33 L258.70,452.39 L259.40,452.45 L260.11,452.50 L260.81,452.56 L261.51,452.62 L262.21,452.69 L262.91,452.75 L263.61,452.81 L264.32,452.87 L265.02,452.93 L265.72,452.99 L266.42,453.05 L267.12,453.11 L267.82,453.17 L268.53,453.24 L269.23,453.30 L269.93,453.36 L270.63,453.42 L271.33,453.49 L272.03,453.55 L272.74,453.61 L273.44,453.68 L274.14,453.74 L274.84,453.80 L275.54,453.87 L276.24,453.93 L276.95,453.99 L277.65,454.06 L278.35,454.12 L279.05,454.19 L279.75,454.25 L280.45,454.32 L281.16,454.38 L281.86,454.45 L282.56,454.52 L283.26,454.58 L283.96,454.65 L284.66,454.71 L285.37,454.78 L286.07,454.85 L286.77,454.91 L287.47,454.98 L288.17,455.05 L288.87,455.11 L289.58,455.18 L290.28,455.25 L290.98,455.32 L291.68,455.38 L292.38,455.45 L293.08,455.52 L293.79,455.59 L294.49,455.66 L295.19,455.73 L295.89,455.79 L296.59,455.86 L297.29,455.93 L298.00,456.00 L298.70,456.07 L299.40,456.14 L300.10,456.21 L300.80,456.28 L301.50,456.35 L302.21,456.42 L302.91,456.49 L303.61,456.56 L304.31,456.63 L305.01,456.70 L305.71,456.77 L306.42,456.84 L307.12,456.92 L307.82,456.99 L308.52,457.06 L309.22,457.13 L309.92,457.20 L310.63,457.27 L311.33,457.35 L312.03,457.42 L312.73,457.49 L313.43,457.56 L314.13,457.63 L314.84,457.71 L315.54,457.78 L316.24,457.85 L316.94,457.93 L317.64,458.00 L318.34,458.07 L319.05,458.15 L319.75,458.22 L320.45,458.29 L321.15,458.37 L321.85,458.44 L322.55,458.51 L323.26,458.59 L323.96,458.66 L324.66,458.74 L325.36,458.81 L326.06,458.89 L326.76,458.96 L327.47,459.04 L328.17,459.11 L328.87,459.19 L329.57,459.26 L330.27,459.34 L330.97,459.41 L331.68,459.49 L332.38,459.57 L333.08,459.64 L333.78,459.72 L334.48,459.79 L335.18,459.87 L335.89,459.95 L336.59,460.02 L337.29,460.10 L337.99,460.18 L338.69,460.26 L339.39,460.33 L340.10,460.41 L340.80,460.49 L341.50,460.57 L342.20,460.64 L342.90,460.72 L343.60,460.80 L344.31,460.88 L345.01,460.96 L345.71,461.04 L346.41,461.12 L347.11,461.20 L347.81,461.27 L348.52,461.35 L349.22,461.43 L349.92,461.51 L350.62,461.59 L351.32,461.67 L352.02,461.75 L352.73,461.83 L353.43,461.91 L354.13,461.99 L354.83,462.08 L355.53,462.16 L356.23,462.24 L356.94,462.32 L357.64,462.40 L358.34,462.48 L359.04,462.56 L359.74,462.65 L360.44,462.73 L361.15,462.81 L361.85,462.89 L362.55,462.98 L363.25,463.06 L363.95,463.14 L364.65,463.22 L365.36,463.31 L366.06,463.39 L366.76,463.48 L367.46,463.56 L368.16,463.64 L368.86,463.73 L369.57,463.81 L370.27,463.90 L370.97,463.98 L371.67,464.07 L372.37,464.15 L373.07,464.24 L373.78,464.32 L374.48,464.41 L375.18,464.49 L375.88,464.58 L376.58,464.67 L377.28,464.75 L377.99,464.84 L378.69,464.93 L379.39,465.01 L380.09,465.10 L380.79,465.19 L381.49,465.27 L382.20,465.36 L382.90,465.45 L383.60,465.54 L384.30,465.63 L385.00,465.71 L385.70,465.80 L386.41,465.89 L387.11,465.98 L387.81,466.07 L388.51,466.16 L389.21,466.25 L389.91,466.34 L390.62,466.43 L391.32,466.52 L392.02,466.61 L392.72,466.70 L393.42,466.79 L394.12,466.88 L394.83,466.97 L395.53,467.06 L396.23,467.16 L396.93,467.25 L397.63,467.34 L398.33,467.43 L399.04,467.52 L399.74,467.62 L400.44,467.71 L401.14,467.80 L401.84,467.89 L402.54,467.99 L403.25,468.08 L403.95,468.18 L404.65,468.27 L405.35,468.36 L406.05,468.46 L406.75,468.55 L407.46,468.65 L408.16,468.74 L408.86,468.84 L409.56,468.93 L410.26,469.03 L410.96,469.12 L411.67,469.22 L412.37,469.32 L413.07,469.41 L413.77,469.51 L414.47,469.61 L415.17,469.70 L415.88,469.80 L416.58,469.90 L417.28,470.00 L417.98,470.09 L418.68,470.19 L419.38,470.29 L420.09,470.39 L420.79,470.49 L421.49,470.59 L422.19,470.69 L422.89,470.79 L423.59,470.89 L424.30,470.99 L425.00,471.09 L425.70,471.19 L426.40,471.29 L427.10,471.39 L427.80,471.49 L428.51,471.59 L429.21,471.69 L429.91,471.80 L430.61,471.90 L431.31,472.00 L432.01,472.10 L432.72,472.20 L433.42,472.31 L434.12,472.41 L434.82,472.51 L435.52,472.62 L436.22,472.72 L436.93,472.83 L437.63,472.93 L438.33,473.04 L439.03,473.14 L439.73,473.25 L440.43,473.35 L441.14,473.46 L441.84,473.56 L442.54,473.67 L443.24,473.77 L443.94,473.88 L444.64,473.99 L445.35,474.10 L446.05,474.20 L446.75,474.31 L447.45,474.42 L448.15,474.53 L448.85,474.63 L449.56,474.74 L450.26,474.85 L450.96,474.96 L451.66,475.07 L452.36,475.18 L453.06,475.29 L453.77,475.40 L454.47,475.51 L455.17,475.62 L455.87,475.73 L456.57,475.84 L457.27,475.95 L457.98,476.06 L458.68,476.18 L459.38,476.29 L460.08,476.40 L460.78,476.51 L461.48,476.63 L462.19,476.74 L462.89,476.85 L463.59,476.97 L464.29,477.08 L464.99,477.19 L465.69,477.31 L466.40,477.42 L467.10,477.54 L467.80,477.65" fill="none" stroke="#000" stroke-width="3.3"/>
<path d="M467.80,477.65 L468.31,477.74 L468.81,477.82 L469.32,477.90 L469.83,477.99 L470.34,478.07 L470.84,478.16 L471.35,478.24 L471.86,478.33 L472.36,478.41 L472.87,478.49 L473.38,478.58 L473.88,478.66 L474.39,478.75 L474.90,478.83 L475.41,478.92 L475.91,479.01 L476.42,479.09 L476.93,479.18 L477.43,479.26 L477.94,479.35 L478.45,479.44 L478.96,479.52 L479.46,479.61 L479.97,479.69 L480.48,479.78 L480.98,479.87 L481.49,479.96 L482.00,480.04 L482.51,480.13 L483.01,480.22 L483.52,480.31 L484.03,480.39 L484.53,480.48 L485.04,480.57 L485.55,480.66 L486.05,480.75 L486.56,480.83 L487.07,480.92 L487.58,481.01 L488.08,481.10 L488.59,481.19 L489.10,481.28 L489.60,481.37 L490.11,481.46 L490.62,481.55 L491.13,481.64 L491.63,481.73 L492.14,481.82 L492.65,481.91 L493.15,482.00 L493.66,482.09 L494.17,482.18 L494.67,482.27 L495.18,482.36 L495.69,482.45 L496.20,482.55 L496.70,482.64 L497.21,482.73 L497.72,482.82 L498.22,482.91 L498.73,483.00 L499.24,483.10 L499.75,483.19 L500.25,483.28 L500.76,483.37 L501.27,483.47 L501.77,483.56 L502.28,483.65 L502.79,483.75 L503.29,483.84 L503.80,483.93 L504.31,484.03 L504.82,484.12 L505.32,484.22 L505.83,484.31 L506.34,484.41 L506.84,484.50 L507.35,484.59 L507.86,484.69 L508.37,484.78 L508.87,484.88 L509.38,484.98 L509.89,485.07 L510.39,485.17 L510.90,485.26 L511.41,485.36 L511.92,485.45 L512.42,485.55 L512.93,485.65 L513.44,485.74 L513.94,485.84 L514.45,485.94 L514.96,486.04 L515.46,486.13 L515.97,486.23 L516.48,486.33 L516.99,486.43 L517.49,486.52 L518.00,486.62" fill="none" stroke="#000" stroke-width="3.3" stroke-dasharray="8.3 8.2" stroke-dashoffset="7.6000000000000005"/>
<path d="M110.80,467.51 L111.54,467.51 L112.28,467.52 L113.02,467.52 L113.76,467.53 L114.50,467.53 L115.24,467.53 L115.98,467.54 L116.72,467.54 L117.46,467.55 L118.20,467.56 L118.94,467.56 L119.68,467.57 L120.42,467.57 L121.16,467.58 L121.90,467.59 L122.64,467.59 L123.37,467.60 L124.11,467.61 L124.85,467.62 L125.59,467.63 L126.33,467.63 L127.07,467.64 L127.81,467.65 L128.55,467.66 L129.29,467.67 L130.03,467.68 L130.77,467.69 L131.51,467.70 L132.25,467.71 L132.99,467.72 L133.73,467.73 L134.47,467.74 L135.21,467.75 L135.95,467.77 L136.69,467.78 L137.43,467.79 L138.17,467.80 L138.91,467.81 L139.65,467.83 L140.39,467.84 L141.13,467.85 L141.87,467.87 L142.61,467.88 L143.35,467.89 L144.09,467.91 L144.83,467.92 L145.57,467.94 L146.31,467.95 L147.05,467.97 L147.78,467.98 L148.52,468.00 L149.26,468.01 L150.00,468.03 L150.74,468.04 L151.48,468.06 L152.22,468.08 L152.96,468.09 L153.70,468.11 L154.44,468.13 L155.18,468.15 L155.92,468.16 L156.66,468.18 L157.40,468.20 L158.14,468.22 L158.88,468.24 L159.62,468.26 L160.36,468.27 L161.10,468.29 L161.84,468.31 L162.58,468.33 L163.32,468.35 L164.06,468.37 L164.80,468.39 L165.54,468.41 L166.28,468.43 L167.02,468.46 L167.76,468.48 L168.50,468.50 L169.24,468.52 L169.98,468.54 L170.72,468.56 L171.46,468.59 L172.19,468.61 L172.93,468.63 L173.67,468.65 L174.41,468.68 L175.15,468.70 L175.89,468.72 L176.63,468.75 L177.37,468.77 L178.11,468.80 L178.85,468.82 L179.59,468.84 L180.33,468.87 L181.07,468.89 L181.81,468.92 L182.55,468.94 L183.29,468.97 L184.03,469.00 L184.77,469.02 L185.51,469.05 L186.25,469.07 L186.99,469.10 L187.73,469.13 L188.47,469.15 L189.21,469.18 L189.95,469.21 L190.69,469.24 L191.43,469.26 L192.17,469.29 L192.91,469.32 L193.65,469.35 L194.39,469.38 L195.13,469.41 L195.87,469.43 L196.61,469.46 L197.34,469.49 L198.08,469.52 L198.82,469.55 L199.56,469.58 L200.30,469.61 L201.04,469.64 L201.78,469.67 L202.52,469.70 L203.26,469.73 L204.00,469.77 L204.74,469.80 L205.48,469.83 L206.22,469.86 L206.96,469.89 L207.70,469.92 L208.44,469.95 L209.18,469.99 L209.92,470.02 L210.66,470.05 L211.40,470.09 L212.14,470.12 L212.88,470.15 L213.62,470.18 L214.36,470.22 L215.10,470.25 L215.84,470.29 L216.58,470.32 L217.32,470.35 L218.06,470.39 L218.80,470.42 L219.54,470.46 L220.28,470.49 L221.02,470.53 L221.75,470.56 L222.49,470.60 L223.23,470.64 L223.97,470.67 L224.71,470.71 L225.45,470.74 L226.19,470.78 L226.93,470.82 L227.67,470.85 L228.41,470.89 L229.15,470.93 L229.89,470.96 L230.63,471.00 L231.37,471.04 L232.11,471.08 L232.85,471.11 L233.59,471.15 L234.33,471.19 L235.07,471.23 L235.81,471.27 L236.55,471.31 L237.29,471.35 L238.03,471.38 L238.77,471.42 L239.51,471.46 L240.25,471.50 L240.99,471.54 L241.73,471.58 L242.47,471.62 L243.21,471.66 L243.95,471.70 L244.69,471.74 L245.43,471.78 L246.16,471.82 L246.90,471.87 L247.64,471.91 L248.38,471.95 L249.12,471.99 L249.86,472.03 L250.60,472.07 L251.34,472.11 L252.08,472.16 L252.82,472.20 L253.56,472.24 L254.30,472.28 L255.04,472.33 L255.78,472.37 L256.52,472.41 L257.26,472.45 L258.00,472.50" fill="none" stroke="#000" stroke-width="3.3" stroke-dasharray="8.3 8.2"/>
<path d="M258.00,472.50 L258.70,472.54 L259.40,472.58 L260.11,472.62 L260.81,472.66 L261.51,472.71 L262.21,472.75 L262.91,472.79 L263.61,472.83 L264.32,472.87 L265.02,472.92 L265.72,472.96 L266.42,473.00 L267.12,473.04 L267.82,473.09 L268.53,473.13 L269.23,473.17 L269.93,473.22 L270.63,473.26 L271.33,473.30 L272.03,473.35 L272.74,473.39 L273.44,473.43 L274.14,473.48 L274.84,473.52 L275.54,473.57 L276.24,473.61 L276.95,473.65 L277.65,473.70 L278.35,473.74 L279.05,473.79 L279.75,473.83 L280.45,473.88 L281.16,473.92 L281.86,473.97 L282.56,474.01 L283.26,474.06 L283.96,474.11 L284.66,474.15 L285.37,474.20 L286.07,474.24 L286.77,474.29 L287.47,474.33 L288.17,474.38 L288.87,474.43 L289.58,474.47 L290.28,474.52 L290.98,474.57 L291.68,474.61 L292.38,474.66 L293.08,474.71 L293.79,474.76 L294.49,474.80 L295.19,474.85 L295.89,474.90 L296.59,474.95 L297.29,474.99 L298.00,475.04 L298.70,475.09 L299.40,475.14 L300.10,475.19 L300.80,475.23 L301.50,475.28 L302.21,475.33 L302.91,475.38 L303.61,475.43 L304.31,475.48 L305.01,475.53 L305.71,475.57 L306.42,475.62 L307.12,475.67 L307.82,475.72 L308.52,475.77 L309.22,475.82 L309.92,475.87 L310.63,475.92 L311.33,475.97 L312.03,476.02 L312.73,476.07 L313.43,476.12 L314.13,476.17 L314.84,476.22 L315.54,476.27 L316.24,476.32 L316.94,476.37 L317.64,476.42 L318.34,476.47 L319.05,476.52 L319.75,476.58 L320.45,476.63 L321.15,476.68 L321.85,476.73 L322.55,476.78 L323.26,476.83 L323.96,476.88 L324.66,476.94 L325.36,476.99 L326.06,477.04 L326.76,477.09 L327.47,477.14 L328.17,477.19 L328.87,477.25 L329.57,477.30 L330.27,477.35 L330.97,477.40 L331.68,477.46 L332.38,477.51 L333.08,477.56 L333.78,477.61 L334.48,477.67 L335.18,477.72 L335.89,477.77 L336.59,477.83 L337.29,477.88 L337.99,477.93 L338.69,477.99 L339.39,478.04 L340.10,478.09 L340.80,478.15 L341.50,478.20 L342.20,478.26 L342.90,478.31 L343.60,478.36 L344.31,478.42 L345.01,478.47 L345.71,478.53 L346.41,478.58 L347.11,478.64 L347.81,478.69 L348.52,478.75 L349.22,478.80 L349.92,478.86 L350.62,478.91 L351.32,478.97 L352.02,479.02 L352.73,479.08 L353.43,479.13 L354.13,479.19 L354.83,479.24 L355.53,479.30 L356.23,479.36 L356.94,479.41 L357.64,479.47 L358.34,479.52 L359.04,479.58 L359.74,479.64 L360.44,479.69 L361.15,479.75 L361.85,479.80 L362.55,479.86 L363.25,479.92 L363.95,479.98 L364.65,480.03 L365.36,480.09 L366.06,480.15 L366.76,480.20 L367.46,480.26 L368.16,480.32 L368.86,480.38 L369.57,480.43 L370.27,480.49 L370.97,480.55 L371.67,480.61 L372.37,480.66 L373.07,480.72 L373.78,480.78 L374.48,480.84 L375.18,480.90 L375.88,480.95 L376.58,481.01 L377.28,481.07 L377.99,481.13 L378.69,481.19 L379.39,481.25 L380.09,481.31 L380.79,481.37 L381.49,481.42 L382.20,481.48 L382.90,481.54 L383.60,481.60 L384.30,481.66 L385.00,481.72 L385.70,481.78 L386.41,481.84 L387.11,481.90 L387.81,481.96 L388.51,482.02 L389.21,482.08 L389.91,482.14 L390.62,482.20 L391.32,482.26 L392.02,482.32 L392.72,482.38 L393.42,482.44 L394.12,482.50 L394.83,482.56 L395.53,482.62 L396.23,482.68 L396.93,482.75 L397.63,482.81 L398.33,482.87 L399.04,482.93 L399.74,482.99 L400.44,483.05 L401.14,483.11 L401.84,483.18 L402.54,483.24 L403.25,483.30 L403.95,483.36 L404.65,483.42 L405.35,483.48 L406.05,483.55 L406.75,483.61 L407.46,483.67 L408.16,483.73 L408.86,483.80 L409.56,483.86 L410.26,483.92 L410.96,483.98 L411.67,484.05 L412.37,484.11 L413.07,484.17 L413.77,484.24 L414.47,484.30 L415.17,484.36 L415.88,484.42 L416.58,484.49 L417.28,484.55 L417.98,484.62 L418.68,484.68 L419.38,484.74 L420.09,484.81 L420.79,484.87 L421.49,484.93 L422.19,485.00 L422.89,485.06 L423.59,485.13 L424.30,485.19 L425.00,485.26 L425.70,485.32 L426.40,485.38 L427.10,485.45 L427.80,485.51 L428.51,485.58 L429.21,485.64 L429.91,485.71 L430.61,485.77 L431.31,485.84 L432.01,485.90 L432.72,485.97 L433.42,486.03 L434.12,486.10 L434.82,486.17 L435.52,486.23 L436.22,486.30 L436.93,486.36 L437.63,486.43 L438.33,486.49 L439.03,486.56 L439.73,486.63 L440.43,486.69 L441.14,486.76 L441.84,486.83 L442.54,486.89 L443.24,486.96 L443.94,487.03 L444.64,487.09 L445.35,487.16 L446.05,487.23 L446.75,487.29 L447.45,487.36 L448.15,487.43 L448.85,487.49 L449.56,487.56 L450.26,487.63 L450.96,487.70 L451.66,487.76 L452.36,487.83 L453.06,487.90 L453.77,487.97 L454.47,488.04 L455.17,488.10 L455.87,488.17 L456.57,488.24 L457.27,488.31 L457.98,488.38 L458.68,488.44 L459.38,488.51 L460.08,488.58 L460.78,488.65 L461.48,488.72 L462.19,488.79 L462.89,488.86 L463.59,488.93 L464.29,488.99 L464.99,489.06 L465.69,489.13 L466.40,489.20 L467.10,489.27 L467.80,489.34" fill="none" stroke="#000" stroke-width="3.3"/>
<path d="M467.80,489.34 L468.31,489.39 L468.81,489.44 L469.32,489.49 L469.83,489.54 L470.34,489.59 L470.84,489.64 L471.35,489.69 L471.86,489.74 L472.36,489.79 L472.87,489.84 L473.38,489.89 L473.88,489.95 L474.39,490.00 L474.90,490.05 L475.41,490.10 L475.91,490.15 L476.42,490.20 L476.93,490.25 L477.43,490.30 L477.94,490.35 L478.45,490.40 L478.96,490.45 L479.46,490.51 L479.97,490.56 L480.48,490.61 L480.98,490.66 L481.49,490.71 L482.00,490.76 L482.51,490.81 L483.01,490.86 L483.52,490.92 L484.03,490.97 L484.53,491.02 L485.04,491.07 L485.55,491.12 L486.05,491.17 L486.56,491.23 L487.07,491.28 L487.58,491.33 L488.08,491.38 L488.59,491.43 L489.10,491.48 L489.60,491.54 L490.11,491.59 L490.62,491.64 L491.13,491.69 L491.63,491.74 L492.14,491.80 L492.65,491.85 L493.15,491.90 L493.66,491.95 L494.17,492.01 L494.67,492.06 L495.18,492.11 L495.69,492.16 L496.20,492.21 L496.70,492.27 L497.21,492.32 L497.72,492.37 L498.22,492.43 L498.73,492.48 L499.24,492.53 L499.75,492.58 L500.25,492.64 L500.76,492.69 L501.27,492.74 L501.77,492.79 L502.28,492.85 L502.79,492.90 L503.29,492.95 L503.80,493.01 L504.31,493.06 L504.82,493.11 L505.32,493.17 L505.83,493.22 L506.34,493.27 L506.84,493.33 L507.35,493.38 L507.86,493.43 L508.37,493.49 L508.87,493.54 L509.38,493.59 L509.89,493.65 L510.39,493.70 L510.90,493.75 L511.41,493.81 L511.92,493.86 L512.42,493.91 L512.93,493.97 L513.44,494.02 L513.94,494.08 L514.45,494.13 L514.96,494.18 L515.46,494.24 L515.97,494.29 L516.48,494.35 L516.99,494.40 L517.49,494.45 L518.00,494.51" fill="none" stroke="#000" stroke-width="3.3" stroke-dasharray="8.3 8.2" stroke-dashoffset="7.6000000000000005"/>
<text x="141.90" y="114.2" font-family="Liberation Sans" font-size="17" font-weight="bold" text-anchor="start" >/55</text>
<text x="143.90" y="192" font-family="Liberation Sans" font-size="17" font-weight="bold" text-anchor="start" >/4</text>
<path d="M960 0H675V1036Q535 900 330 835V1085Q440 1120 562 1215T730 1466H960Z" transform="translate(158.08,192) scale(0.00830,-0.00830)" fill="#000" shape-rendering="geometricPrecision"/>
<text x="142.10" y="260" font-family="Liberation Sans" font-size="17" font-weight="bold" text-anchor="start" >/32</text>
<text x="141.70" y="336" font-family="Liberation Sans" font-size="17" font-weight="bold" text-anchor="start" >/22</text>
<text x="141.70" y="380.6" font-family="Liberation Sans" font-size="17" font-weight="bold" text-anchor="start" >/</text>
<path d="M960 0H675V1036Q535 900 330 835V1085Q440 1120 562 1215T730 1466H960Z" transform="translate(146.42,380.6) scale(0.00830,-0.00830)" fill="#000" shape-rendering="geometricPrecision"/>
<text x="155.88" y="380.6" font-family="Liberation Sans" font-size="17" font-weight="bold" text-anchor="start" >6</text>
<text x="143.50" y="419.7" font-family="Liberation Sans" font-size="17" font-weight="bold" text-anchor="start" >/</text>
<path d="M960 0H675V1036Q535 900 330 835V1085Q440 1120 562 1215T730 1466H960Z" transform="translate(148.22,419.7) scale(0.00830,-0.00830)" fill="#000" shape-rendering="geometricPrecision"/>
<path d="M960 0H675V1036Q535 900 330 835V1085Q440 1120 562 1215T730 1466H960Z" transform="translate(157.68,419.7) scale(0.00830,-0.00830)" fill="#000" shape-rendering="geometricPrecision"/>
<text x="143.90" y="443" font-family="Liberation Sans" font-size="17" font-weight="bold" text-anchor="start" >/<tspan dx="1.6">8</tspan></text>
<text x="143.90" y="486.8" font-family="Liberation Sans" font-size="17" font-weight="bold" text-anchor="start" >/<tspan dx="1.6">5</tspan></text>
</g><g shape-rendering="crispEdges">
<rect x="109" y="70" width="470" height="4" fill="#000"/>
<rect x="109" y="506.5" width="470" height="3" fill="#000"/>
<rect x="109" y="70" width="3.5" height="439.5" fill="#000"/>
<rect x="575" y="70" width="4" height="439.5" fill="#000"/>
<rect x="105" y="71" width="4" height="2" fill="#000"/>
<text x="99.50" y="80.0" font-family="Liberation Sans" font-size="16" font-weight="normal" text-anchor="end" >400</text>
<rect x="105" y="116" width="4" height="2" fill="#000"/>
<text x="99.50" y="123.4" font-family="Liberation Sans" font-size="16" font-weight="normal" text-anchor="end" >360</text>
<rect x="105" y="158.5" width="4" height="2" fill="#000"/>
<text x="99.50" y="167.9" font-family="Liberation Sans" font-size="16" font-weight="normal" text-anchor="end" >320</text>
<rect x="105" y="201.5" width="4" height="2" fill="#000"/>
<text x="99.50" y="210.20000000000002" font-family="Liberation Sans" font-size="16" font-weight="normal" text-anchor="end" >280</text>
<rect x="105" y="246" width="4" height="2" fill="#000"/>
<text x="99.50" y="253.20000000000002" font-family="Liberation Sans" font-size="16" font-weight="normal" text-anchor="end" >240</text>
<rect x="105" y="289" width="4" height="2" fill="#000"/>
<text x="99.50" y="297.9" font-family="Liberation Sans" font-size="16" font-weight="normal" text-anchor="end" >200</text>
<rect x="105" y="332.5" width="4" height="2" fill="#000"/>
<path d="M770 0H580V1120L215 925V1120L610 1472H770Z" transform="translate(72.80,341.29999999999995) scale(0.00781,-0.00781)" fill="#000" shape-rendering="geometricPrecision"/>
<text x="81.70" y="341.29999999999995" font-family="Liberation Sans" font-size="16" font-weight="normal" text-anchor="start" >60</text>
<rect x="105" y="376" width="4" height="2" fill="#000"/>
<path d="M770 0H580V1120L215 925V1120L610 1472H770Z" transform="translate(72.80,384.0) scale(0.00781,-0.00781)" fill="#000" shape-rendering="geometricPrecision"/>
<text x="81.70" y="384.0" font-family="Liberation Sans" font-size="16" font-weight="normal" text-anchor="start" >20</text>
<rect x="105" y="419.5" width="4" height="2" fill="#000"/>
<text x="99.50" y="427.09999999999997" font-family="Liberation Sans" font-size="16" font-weight="normal" text-anchor="end" >80</text>
<rect x="105" y="463" width="4" height="2" fill="#000"/>
<text x="99.50" y="472.5" font-family="Liberation Sans" font-size="16" font-weight="normal" text-anchor="end" >40</text>
<rect x="105" y="507.5" width="4" height="2" fill="#000"/>
<text x="99.50" y="515.6" font-family="Liberation Sans" font-size="16" font-weight="normal" text-anchor="end" >0</text>
<text x="58.50" y="273.3" font-family="Liberation Sans" font-size="18.5" font-weight="bold" text-anchor="start" >H (m)</text>
<rect x="110" y="509.5" width="2" height="6.5" fill="#000"/>
<text x="111.00" y="535.3" font-family="Liberation Sans" font-size="16" font-weight="normal" text-anchor="middle" >0</text>
<rect x="169" y="509.5" width="2" height="6.5" fill="#000"/>
<path d="M770 0H580V1120L215 925V1120L610 1472H770Z" transform="translate(161.10,535.3) scale(0.00781,-0.00781)" fill="#000" shape-rendering="geometricPrecision"/>
<text x="170.00" y="535.3" font-family="Liberation Sans" font-size="16" font-weight="normal" text-anchor="start" >0</text>
<rect x="227" y="509.5" width="2" height="6.5" fill="#000"/>
<text x="228.00" y="535.3" font-family="Liberation Sans" font-size="16" font-weight="normal" text-anchor="middle" >20</text>
<rect x="285" y="509.5" width="2" height="6.5" fill="#000"/>
<text x="286.00" y="535.3" font-family="Liberation Sans" font-size="16" font-weight="normal" text-anchor="middle" >30</text>
<rect x="342" y="509.5" width="2" height="6.5" fill="#000"/>
<text x="343.00" y="535.3" font-family="Liberation Sans" font-size="16" font-weight="normal" text-anchor="middle" >40</text>
<rect x="402" y="509.5" width="2" height="6.5" fill="#000"/>
<text x="403.00" y="535.3" font-family="Liberation Sans" font-size="16" font-weight="normal" text-anchor="middle" >50</text>
<rect x="459" y="509.5" width="2" height="6.5" fill="#000"/>
<text x="460.00" y="535.3" font-family="Liberation Sans" font-size="16" font-weight="normal" text-anchor="middle" >60</text>
<rect x="517" y="509.5" width="2" height="6.5" fill="#000"/>
<text x="518.00" y="535.3" font-family="Liberation Sans" font-size="16" font-weight="normal" text-anchor="middle" >70</text>
<rect x="577" y="509.5" width="2" height="6.5" fill="#000"/>
<text x="577.00" y="535.3" font-family="Liberation Sans" font-size="16" font-weight="normal" text-anchor="middle" >80</text>
<text x="13.60" y="534.5" font-family="Liberation Sans" font-size="16.4" font-weight="bold" text-anchor="start" >Q (l/min)</text>
<text x="30.20" y="560.8" font-family="Liberation Sans" font-size="16" font-weight="bold" text-anchor="start" >m<tspan dy="-1.6">³</tspan><tspan dy="1.6">/h</tspan></text>
<text x="38.40" y="589.7" font-family="Liberation Sans" font-size="16" font-weight="bold" text-anchor="start" >l/s</text>
<rect x="109" y="568" width="470" height="2" fill="#000"/>
<rect x="109" y="563" width="2" height="11.5" fill="#000"/>
<rect x="130" y="563" width="2" height="5" fill="#000"/>
<rect x="149" y="563" width="2" height="5" fill="#000"/>
<rect x="169" y="563" width="2" height="5" fill="#000"/>
<rect x="188" y="563" width="2" height="5" fill="#000"/>
<rect x="208" y="563" width="2" height="5" fill="#000"/>
<rect x="227" y="563" width="2" height="5" fill="#000"/>
<rect x="247" y="563" width="2" height="5" fill="#000"/>
<rect x="266" y="563" width="2" height="5" fill="#000"/>
<rect x="285" y="563" width="2" height="5" fill="#000"/>
<rect x="305" y="563" width="2" height="5" fill="#000"/>
<rect x="324" y="563" width="2" height="5" fill="#000"/>
<rect x="344" y="563" width="2" height="5" fill="#000"/>
<rect x="363" y="563" width="2" height="5" fill="#000"/>
<rect x="383" y="563" width="2" height="5" fill="#000"/>
<rect x="402" y="563" width="2" height="5" fill="#000"/>
<rect x="421" y="563" width="2" height="5" fill="#000"/>
<rect x="441" y="563" width="2" height="5" fill="#000"/>
<rect x="460" y="563" width="2" height="5" fill="#000"/>
<rect x="480" y="563" width="2" height="5" fill="#000"/>
<rect x="499" y="563" width="2" height="5" fill="#000"/>
<rect x="519" y="563" width="2" height="5" fill="#000"/>
<rect x="538" y="563" width="2" height="5" fill="#000"/>
<rect x="557" y="563" width="2" height="5" fill="#000"/>
<rect x="577" y="563" width="2" height="5" fill="#000"/>
<rect x="144" y="570" width="2" height="4.8" fill="#000"/>
<rect x="179" y="570" width="2" height="4.8" fill="#000"/>
<rect x="214" y="570" width="2" height="4.8" fill="#000"/>
<rect x="249" y="570" width="2" height="4.8" fill="#000"/>
<rect x="284" y="570" width="2" height="4.8" fill="#000"/>
<rect x="319" y="570" width="2" height="4.8" fill="#000"/>
<rect x="354" y="570" width="2" height="4.8" fill="#000"/>
<rect x="389" y="570" width="2" height="4.8" fill="#000"/>
<rect x="424" y="570" width="2" height="4.8" fill="#000"/>
<rect x="460" y="570" width="2" height="4.8" fill="#000"/>
<rect x="495" y="570" width="2" height="4.8" fill="#000"/>
<rect x="530" y="570" width="2" height="4.8" fill="#000"/>
<rect x="565" y="570" width="2" height="4.8" fill="#000"/>
<text x="110.80" y="559" font-family="Liberation Sans" font-size="15.5" font-weight="normal" text-anchor="middle" >0</text>
<path d="M770 0H580V1120L215 925V1120L610 1472H770Z" transform="translate(203.82,559) scale(0.00757,-0.00757)" fill="#000" shape-rendering="geometricPrecision"/>
<text x="305.47" y="559" font-family="Liberation Sans" font-size="15.5" font-weight="normal" text-anchor="middle" >2</text>
<text x="402.80" y="559" font-family="Liberation Sans" font-size="15.5" font-weight="normal" text-anchor="middle" >3</text>
<text x="500.13" y="559" font-family="Liberation Sans" font-size="15.5" font-weight="normal" text-anchor="middle" >4</text>
<text x="110.80" y="591" font-family="Liberation Sans" font-size="16" font-weight="normal" text-anchor="middle" >0</text>
<text x="178.58" y="591" font-family="Liberation Sans" font-size="16" font-weight="normal" text-anchor="middle" >0,2</text>
<text x="248.66" y="591" font-family="Liberation Sans" font-size="16" font-weight="normal" text-anchor="middle" >0,4</text>
<text x="318.74" y="591" font-family="Liberation Sans" font-size="16" font-weight="normal" text-anchor="middle" >0,6</text>
<text x="388.82" y="591" font-family="Liberation Sans" font-size="16" font-weight="normal" text-anchor="middle" >0,8</text>
<path d="M770 0H580V1120L215 925V1120L610 1472H770Z" transform="translate(456.75,591) scale(0.00781,-0.00781)" fill="#000" shape-rendering="geometricPrecision"/>
<path d="M770 0H580V1120L215 925V1120L610 1472H770Z" transform="translate(517.86,591) scale(0.00781,-0.00781)" fill="#000" shape-rendering="geometricPrecision"/>
<text x="526.76" y="591" font-family="Liberation Sans" font-size="16" font-weight="normal" text-anchor="start" >,2</text>
<rect x="108" y="602" width="472" height="128" fill="#d9eaf7"/>
<rect x="140" y="605" width="1" height="122" fill="#000"/>
<rect x="169" y="605" width="1" height="122" fill="#000"/>
<rect x="198" y="605" width="1" height="122" fill="#000"/>
<rect x="226" y="605" width="1" height="122" fill="#000"/>
<rect x="255" y="605" width="1" height="122" fill="#000"/>
<rect x="286" y="605" width="1" height="122" fill="#000"/>
<rect x="315" y="605" width="1" height="122" fill="#000"/>
<rect x="343" y="605" width="1" height="122" fill="#000"/>
<rect x="372" y="605" width="1" height="122" fill="#000"/>
<rect x="403" y="605" width="1" height="122" fill="#000"/>
<rect x="432" y="605" width="1" height="122" fill="#000"/>
<rect x="460" y="605" width="1" height="122" fill="#000"/>
<rect x="489" y="605" width="1" height="122" fill="#000"/>
<rect x="520" y="605" width="1" height="122" fill="#000"/>
<rect x="548" y="605" width="1" height="122" fill="#000"/>
<rect x="112" y="615" width="465" height="1" fill="#000"/>
<rect x="112" y="626" width="465" height="1" fill="#000"/>
<rect x="112" y="637" width="465" height="1" fill="#000"/>
<rect x="112" y="648" width="465" height="1" fill="#000"/>
<rect x="112" y="659" width="465" height="1" fill="#000"/>
<rect x="112" y="671" width="465" height="1" fill="#000"/>
<rect x="112" y="682" width="465" height="1" fill="#000"/>
<rect x="112" y="693" width="465" height="1" fill="#000"/>
<rect x="112" y="706" width="465" height="1" fill="#000"/>
<rect x="112" y="717" width="465" height="1" fill="#000"/>
</g><g shape-rendering="geometricPrecision">
<path d="M169.80,716.55 L170.80,715.93 L171.80,715.32 L172.80,714.70 L173.80,714.07 L174.80,713.45 L175.81,712.82 L176.81,712.20 L177.81,711.57 L178.81,710.94 L179.81,710.30 L180.81,709.67 L181.81,709.03 L182.81,708.40 L183.81,707.76 L184.81,707.12 L185.81,706.48 L186.81,705.83 L187.82,705.19 L188.82,704.55 L189.82,703.90 L190.82,703.25 L191.82,702.60 L192.82,701.95 L193.82,701.30 L194.82,700.65 L195.82,700.00 L196.82,699.35 L197.82,698.70 L198.82,698.04 L199.83,697.39 L200.83,696.73 L201.83,696.08 L202.83,695.42 L203.83,694.76 L204.83,694.11 L205.83,693.45 L206.83,692.79 L207.83,692.13 L208.83,691.47 L209.83,690.82 L210.84,690.16 L211.84,689.50 L212.84,688.84 L213.84,688.18 L214.84,687.52 L215.84,686.86 L216.84,686.21 L217.84,685.55 L218.84,684.89 L219.84,684.23 L220.84,683.58 L221.84,682.92 L222.85,682.26 L223.85,681.61 L224.85,680.95 L225.85,680.30 L226.85,679.64 L227.85,678.99 L228.85,678.34 L229.85,677.69 L230.85,677.04 L231.85,676.39 L232.85,675.74 L233.85,675.09 L234.86,674.44 L235.86,673.80 L236.86,673.15 L237.86,672.51 L238.86,671.87 L239.86,671.23 L240.86,670.59 L241.86,669.95 L242.86,669.32 L243.86,668.68 L244.86,668.05 L245.87,667.42 L246.87,666.79 L247.87,666.16 L248.87,665.53 L249.87,664.91 L250.87,664.28 L251.87,663.66 L252.87,663.04 L253.87,662.43 L254.87,661.81 L255.87,661.20 L256.87,660.59 L257.88,659.98 L258.88,659.37 L259.88,658.77 L260.88,658.16 L261.88,657.56 L262.88,656.97 L263.88,656.37 L264.88,655.78 L265.88,655.19 L266.88,654.60 L267.88,654.02 L268.88,653.44 L269.89,652.86 L270.89,652.28 L271.89,651.71 L272.89,651.14 L273.89,650.57 L274.89,650.01 L275.89,649.45 L276.89,648.89 L277.89,648.33 L278.89,647.78 L279.89,647.23 L280.90,646.69 L281.90,646.15 L282.90,645.61 L283.90,645.07 L284.90,644.54 L285.90,644.01 L286.90,643.49 L287.90,642.97 L288.90,642.45 L289.90,641.94 L290.90,641.43 L291.90,640.92 L292.91,640.42 L293.91,639.92 L294.91,639.43 L295.91,638.94 L296.91,638.45 L297.91,637.97 L298.91,637.49 L299.91,637.02 L300.91,636.55 L301.91,636.09 L302.91,635.62 L303.91,635.17 L304.92,634.72 L305.92,634.27 L306.92,633.83 L307.92,633.39 L308.92,632.96 L309.92,632.53 L310.92,632.10 L311.92,631.69 L312.92,631.27 L313.92,630.86 L314.92,630.46 L315.93,630.06 L316.93,629.67 L317.93,629.28 L318.93,628.89 L319.93,628.51 L320.93,628.14 L321.93,627.77 L322.93,627.41 L323.93,627.05 L324.93,626.69 L325.93,626.35 L326.93,626.00 L327.94,625.66 L328.94,625.33 L329.94,625.00 L330.94,624.68 L331.94,624.36 L332.94,624.05 L333.94,623.74 L334.94,623.44 L335.94,623.14 L336.94,622.84 L337.94,622.56 L338.94,622.27 L339.95,622.00 L340.95,621.72 L341.95,621.46 L342.95,621.20 L343.95,620.94 L344.95,620.69 L345.95,620.44 L346.95,620.20 L347.95,619.96 L348.95,619.73 L349.95,619.50 L350.96,619.28 L351.96,619.07 L352.96,618.86 L353.96,618.65 L354.96,618.45 L355.96,618.25 L356.96,618.06 L357.96,617.88 L358.96,617.70 L359.96,617.52 L360.96,617.35 L361.96,617.19 L362.97,617.03 L363.97,616.87 L364.97,616.73 L365.97,616.58 L366.97,616.44 L367.97,616.31 L368.97,616.18 L369.97,616.06 L370.97,615.94 L371.97,615.83 L372.97,615.72 L373.97,615.62 L374.98,615.52 L375.98,615.43 L376.98,615.34 L377.98,615.26 L378.98,615.18 L379.98,615.11 L380.98,615.04 L381.98,614.98 L382.98,614.93 L383.98,614.88 L384.98,614.83 L385.99,614.79 L386.99,614.76 L387.99,614.73 L388.99,614.70 L389.99,614.68 L390.99,614.67 L391.99,614.66 L392.99,614.66 L393.99,614.66 L394.99,614.67 L395.99,614.68 L396.99,614.69 L398.00,614.72 L399.00,614.74 L400.00,614.78 L401.00,614.81 L402.00,614.86 L403.00,614.91 L404.00,614.96 L405.00,615.02 L406.00,615.08 L407.00,615.15 L408.00,615.22 L409.00,615.30 L410.01,615.38 L411.01,615.47 L412.01,615.57 L413.01,615.67 L414.01,615.77 L415.01,615.88 L416.01,615.99 L417.01,616.11 L418.01,616.24 L419.01,616.37 L420.01,616.50 L421.02,616.64 L422.02,616.78 L423.02,616.93 L424.02,617.09 L425.02,617.25 L426.02,617.41 L427.02,617.58 L428.02,617.75 L429.02,617.93 L430.02,618.12 L431.02,618.31 L432.02,618.50 L433.03,618.70 L434.03,618.90 L435.03,619.11 L436.03,619.32 L437.03,619.54 L438.03,619.77 L439.03,619.99 L440.03,620.23 L441.03,620.47 L442.03,620.71 L443.03,620.96 L444.03,621.21 L445.04,621.47 L446.04,621.73 L447.04,622.00 L448.04,622.27 L449.04,622.54 L450.04,622.83 L451.04,623.11 L452.04,623.40 L453.04,623.70 L454.04,624.00 L455.04,624.30 L456.05,624.61 L457.05,624.92 L458.05,625.24 L459.05,625.56 L460.05,625.89 L461.05,626.22 L462.05,626.55 L463.05,626.89 L464.05,627.24 L465.05,627.58 L466.05,627.93 L467.05,628.29 L468.06,628.65 L469.06,629.01 L470.06,629.38 L471.06,629.75 L472.06,630.12 L473.06,630.50 L474.06,630.89 L475.06,631.27 L476.06,631.66 L477.06,632.06 L478.06,632.45 L479.06,632.85 L480.07,633.26 L481.07,633.67 L482.07,634.08 L483.07,634.49 L484.07,634.91 L485.07,635.33 L486.07,635.76 L487.07,636.19 L488.07,636.62 L489.07,637.06 L490.07,637.49 L491.08,637.93 L492.08,638.38 L493.08,638.83 L494.08,639.28 L495.08,639.73 L496.08,640.19 L497.08,640.65 L498.08,641.11 L499.08,641.58 L500.08,642.04 L501.08,642.52 L502.08,642.99 L503.09,643.47 L504.09,643.94 L505.09,644.43 L506.09,644.91 L507.09,645.40 L508.09,645.89 L509.09,646.38 L510.09,646.87 L511.09,647.37 L512.09,647.87 L513.09,648.37 L514.09,648.88 L515.10,649.38 L516.10,649.89 L517.10,650.40 L518.10,650.91 L519.10,651.43 L520.10,651.95" fill="none" stroke="#000" stroke-width="3.2" stroke-linecap="butt"/>
</g><g shape-rendering="crispEdges">
<rect x="108" y="602" width="472" height="3" fill="#000"/>
<rect x="108" y="727" width="472" height="3" fill="#000"/>
<rect x="108" y="602" width="4" height="128" fill="#000"/>
<rect x="577" y="602" width="3" height="128" fill="#000"/>
<rect x="104" y="614" width="4.5" height="2" fill="#000"/>
<text x="98.60" y="617.8" font-family="Liberation Sans" font-size="16.5" font-weight="normal" text-anchor="end" >60</text>
<rect x="104" y="670" width="4.5" height="2" fill="#000"/>
<text x="98.60" y="676.9" font-family="Liberation Sans" font-size="16.5" font-weight="normal" text-anchor="end" >50</text>
<rect x="104" y="728" width="4.5" height="2" fill="#000"/>
<text x="98.60" y="734.3" font-family="Liberation Sans" font-size="16.5" font-weight="normal" text-anchor="end" >40</text>
<rect x="109" y="730" width="2" height="4.5" fill="#000"/>
<text x="110.00" y="750.5" font-family="Liberation Sans" font-size="16" font-weight="normal" text-anchor="middle" >0</text>
<rect x="168" y="730" width="2" height="4.5" fill="#000"/>
<path d="M770 0H580V1120L215 925V1120L610 1472H770Z" transform="translate(160.10,750.5) scale(0.00781,-0.00781)" fill="#000" shape-rendering="geometricPrecision"/>
<text x="169.00" y="750.5" font-family="Liberation Sans" font-size="16" font-weight="normal" text-anchor="start" >0</text>
<rect x="226" y="730" width="2" height="4.5" fill="#000"/>
<text x="227.00" y="750.5" font-family="Liberation Sans" font-size="16" font-weight="normal" text-anchor="middle" >20</text>
<rect x="285" y="730" width="2" height="4.5" fill="#000"/>
<text x="286.00" y="750.5" font-family="Liberation Sans" font-size="16" font-weight="normal" text-anchor="middle" >30</text>
<rect x="343" y="730" width="2" height="4.5" fill="#000"/>
<text x="344.00" y="750.5" font-family="Liberation Sans" font-size="16" font-weight="normal" text-anchor="middle" >40</text>
<rect x="402" y="730" width="2" height="4.5" fill="#000"/>
<text x="403.00" y="750.5" font-family="Liberation Sans" font-size="16" font-weight="normal" text-anchor="middle" >50</text>
<rect x="460" y="730" width="2" height="4.5" fill="#000"/>
<text x="461.00" y="750.5" font-family="Liberation Sans" font-size="16" font-weight="normal" text-anchor="middle" >60</text>
<rect x="519" y="730" width="2" height="4.5" fill="#000"/>
<text x="520.00" y="750.5" font-family="Liberation Sans" font-size="16" font-weight="normal" text-anchor="middle" >70</text>
<rect x="578" y="730" width="2" height="4.5" fill="#000"/>
<text x="577.00" y="750.5" font-family="Liberation Sans" font-size="16" font-weight="normal" text-anchor="middle" >80</text>
<text x="14.10" y="750.5" font-family="Liberation Sans" font-size="16.4" font-weight="bold" text-anchor="start" >Q (l/min)</text>
<text x="0" y="0" font-family="Liberation Serif" font-size="25" font-weight="bold" transform="translate(75.2,647.5) scale(1.08,1)">η</text>
<text x="90.30" y="650.2" font-family="Liberation Serif" font-size="20" font-weight="bold" text-anchor="start" font-style="italic">%</text>
</g><g shape-rendering="geometricPrecision">
<rect x="421" y="85.8" width="120.2" height="44" rx="21.5" fill="#8a8a8a"/>
<rect x="417.3" y="81.4" width="120.4" height="43.4" rx="21.5" fill="#fff" stroke="#000" stroke-width="2"/>
<text x="0" y="0" font-family="Liberation Sans" font-size="37" font-weight="bold" text-anchor="middle" stroke="#000" stroke-width="1.7" transform="translate(477.4,115.6) scale(1.11,1)">SX80</text>
</g>
</svg>
</body></html>
